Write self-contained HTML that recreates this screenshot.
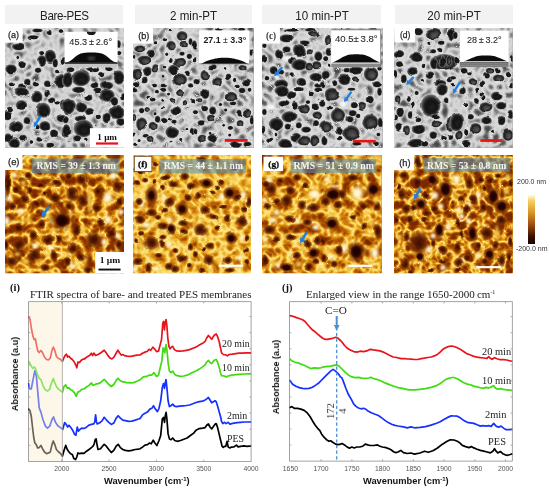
<!DOCTYPE html>
<html><head><meta charset="utf-8">
<style>
html,body{margin:0;padding:0;background:#fff;}
body{width:550px;height:490px;position:relative;overflow:hidden;font-family:"Liberation Sans",sans-serif;}
.a{position:absolute;will-change:transform;}
.hd{position:absolute;will-change:transform;top:5px;height:19px;background:#f2f2f2;color:#222;font-size:12.6px;line-height:19px;text-align:center;padding-top:1.5px;box-sizing:border-box;}
.sem{position:absolute;top:28px;height:119.5px;background:#a8a8a8;overflow:hidden;}
.afm{position:absolute;top:155px;height:118px;background:#c88a2a;overflow:hidden;}
.lbl{position:absolute;background:#fff;color:#333;font-size:9.5px;}
.ins{position:absolute;background:#fff;overflow:hidden;}
.ins .t{position:absolute;left:0;right:0;text-align:center;color:#222;font-size:9.5px;}
.rms{position:absolute;background:rgba(110,160,185,0.62);color:#fff;font-family:"Liberation Serif",serif;font-weight:bold;font-size:10px;line-height:14px;text-align:center;white-space:nowrap;}
.hd span{display:inline-block;transform:scaleX(0.92);}
.serif{font-family:"Liberation Serif",serif;}
</style></head><body>

<!-- headers -->
<div class="hd" style="left:4.5px;width:117.7px;letter-spacing:-0.4px;padding-left:2px;"><span>Bare-PES</span></div>
<div class="hd" style="left:134.5px;width:116.5px;"><span>2 min-PT</span></div>
<div class="hd" style="left:262.4px;width:119.4px;"><span>10 min-PT</span></div>
<div class="hd" style="left:394.9px;width:117.7px;"><span>20 min-PT</span></div>

<!-- SEM panels -->
<div class="sem" id="sa" style="left:5px;width:119px;"></div>
<div class="sem" id="sb" style="left:133px;width:120.5px;"></div>
<div class="sem" id="sc" style="left:262px;width:120.5px;"></div>
<div class="sem" id="sd" style="left:394px;width:118.6px;"></div>

<!-- AFM panels -->
<div class="afm" id="fe" style="left:5px;width:119px;"></div>
<div class="afm" id="ff" style="left:133px;width:118px;"></div>
<div class="afm" id="fg" style="left:262px;width:119.5px;"></div>
<div class="afm" id="fh" style="left:394px;width:118.6px;"></div>

<!-- color bar -->
<div class="a" style="left:528.3px;top:194.8px;width:7px;height:48.6px;background:linear-gradient(#fffbe8 0%,#f5d060 12%,#d99a2a 35%,#9a4a10 62%,#3a0f00 85%,#150500 100%);"></div>
<div class="a" style="left:517px;top:178px;font-size:7px;color:#333;white-space:nowrap;">200.0 nm</div>
<div class="a" style="left:516px;top:245.3px;font-size:7px;color:#333;white-space:nowrap;">-200.0 nm</div>

<svg class="a" style="left:0;top:0;" width="550" height="490" viewBox="0 0 550 490">
<defs>
<radialGradient id="pg" fx="0.58" fy="0.62"><stop offset="0" stop-color="#202020"/><stop offset="0.5" stop-color="#141414"/><stop offset="0.68" stop-color="#1e1e1e"/><stop offset="0.85" stop-color="#4a4a4a"/><stop offset="1" stop-color="#8c8c8c"/></radialGradient>
<radialGradient id="pgm" fx="0.62" fy="0.66"><stop offset="0" stop-color="#5a5a5a"/><stop offset="0.45" stop-color="#3e3e3e"/><stop offset="0.7" stop-color="#1e1e1e"/><stop offset="0.86" stop-color="#404040"/><stop offset="1" stop-color="#8c8c8c"/></radialGradient>
<filter id="bl4" x="-10%" y="-10%" width="120%" height="120%"><feGaussianBlur stdDeviation="0.35"/></filter>
<filter id="bl8" x="-10%" y="-10%" width="120%" height="120%"><feGaussianBlur stdDeviation="0.8"/></filter>
<filter id="semN1" x="0" y="0" width="100%" height="100%" color-interpolation-filters="sRGB"><feTurbulence type="turbulence" baseFrequency="0.12" numOctaves="1" seed="1"/><feColorMatrix type="matrix" values="1.8 0 0 0 0  1.8 0 0 0 0  1.8 0 0 0 0  0 0 0 0 1"/><feComponentTransfer><feFuncR type="table" tableValues="0.85 0.81 0.73 0.61 0.46 0.35 0.29"/><feFuncG type="table" tableValues="0.85 0.81 0.73 0.61 0.46 0.35 0.29"/><feFuncB type="table" tableValues="0.85 0.81 0.73 0.61 0.46 0.35 0.29"/></feComponentTransfer><feGaussianBlur stdDeviation="0.45"/></filter>
<filter id="semN2" x="0" y="0" width="100%" height="100%" color-interpolation-filters="sRGB"><feTurbulence type="turbulence" baseFrequency="0.12" numOctaves="1" seed="2"/><feColorMatrix type="matrix" values="1.8 0 0 0 0  1.8 0 0 0 0  1.8 0 0 0 0  0 0 0 0 1"/><feComponentTransfer><feFuncR type="table" tableValues="0.85 0.81 0.73 0.61 0.46 0.35 0.29"/><feFuncG type="table" tableValues="0.85 0.81 0.73 0.61 0.46 0.35 0.29"/><feFuncB type="table" tableValues="0.85 0.81 0.73 0.61 0.46 0.35 0.29"/></feComponentTransfer><feGaussianBlur stdDeviation="0.45"/></filter>
<filter id="semN3" x="0" y="0" width="100%" height="100%" color-interpolation-filters="sRGB"><feTurbulence type="turbulence" baseFrequency="0.12" numOctaves="1" seed="3"/><feColorMatrix type="matrix" values="1.8 0 0 0 0  1.8 0 0 0 0  1.8 0 0 0 0  0 0 0 0 1"/><feComponentTransfer><feFuncR type="table" tableValues="0.85 0.81 0.73 0.61 0.46 0.35 0.29"/><feFuncG type="table" tableValues="0.85 0.81 0.73 0.61 0.46 0.35 0.29"/><feFuncB type="table" tableValues="0.85 0.81 0.73 0.61 0.46 0.35 0.29"/></feComponentTransfer><feGaussianBlur stdDeviation="0.45"/></filter>
<filter id="semN4" x="0" y="0" width="100%" height="100%" color-interpolation-filters="sRGB"><feTurbulence type="turbulence" baseFrequency="0.12" numOctaves="1" seed="4"/><feColorMatrix type="matrix" values="1.8 0 0 0 0  1.8 0 0 0 0  1.8 0 0 0 0  0 0 0 0 1"/><feComponentTransfer><feFuncR type="table" tableValues="0.85 0.81 0.73 0.61 0.46 0.35 0.29"/><feFuncG type="table" tableValues="0.85 0.81 0.73 0.61 0.46 0.35 0.29"/><feFuncB type="table" tableValues="0.85 0.81 0.73 0.61 0.46 0.35 0.29"/></feComponentTransfer><feGaussianBlur stdDeviation="0.45"/></filter>
<filter id="semN5" x="0" y="0" width="100%" height="100%" color-interpolation-filters="sRGB"><feTurbulence type="turbulence" baseFrequency="0.12" numOctaves="1" seed="5"/><feColorMatrix type="matrix" values="1.8 0 0 0 0  1.8 0 0 0 0  1.8 0 0 0 0  0 0 0 0 1"/><feComponentTransfer><feFuncR type="table" tableValues="0.85 0.81 0.73 0.61 0.46 0.35 0.29"/><feFuncG type="table" tableValues="0.85 0.81 0.73 0.61 0.46 0.35 0.29"/><feFuncB type="table" tableValues="0.85 0.81 0.73 0.61 0.46 0.35 0.29"/></feComponentTransfer><feGaussianBlur stdDeviation="0.45"/></filter>
<filter id="semN6" x="0" y="0" width="100%" height="100%" color-interpolation-filters="sRGB"><feTurbulence type="turbulence" baseFrequency="0.12" numOctaves="1" seed="6"/><feColorMatrix type="matrix" values="1.8 0 0 0 0  1.8 0 0 0 0  1.8 0 0 0 0  0 0 0 0 1"/><feComponentTransfer><feFuncR type="table" tableValues="0.85 0.81 0.73 0.61 0.46 0.35 0.29"/><feFuncG type="table" tableValues="0.85 0.81 0.73 0.61 0.46 0.35 0.29"/><feFuncB type="table" tableValues="0.85 0.81 0.73 0.61 0.46 0.35 0.29"/></feComponentTransfer><feGaussianBlur stdDeviation="0.45"/></filter>
<filter id="semN7" x="0" y="0" width="100%" height="100%" color-interpolation-filters="sRGB"><feTurbulence type="turbulence" baseFrequency="0.12" numOctaves="1" seed="7"/><feColorMatrix type="matrix" values="1.8 0 0 0 0  1.8 0 0 0 0  1.8 0 0 0 0  0 0 0 0 1"/><feComponentTransfer><feFuncR type="table" tableValues="0.85 0.81 0.73 0.61 0.46 0.35 0.29"/><feFuncG type="table" tableValues="0.85 0.81 0.73 0.61 0.46 0.35 0.29"/><feFuncB type="table" tableValues="0.85 0.81 0.73 0.61 0.46 0.35 0.29"/></feComponentTransfer><feGaussianBlur stdDeviation="0.45"/></filter>
<filter id="semN8" x="0" y="0" width="100%" height="100%" color-interpolation-filters="sRGB"><feTurbulence type="turbulence" baseFrequency="0.12" numOctaves="1" seed="8"/><feColorMatrix type="matrix" values="1.8 0 0 0 0  1.8 0 0 0 0  1.8 0 0 0 0  0 0 0 0 1"/><feComponentTransfer><feFuncR type="table" tableValues="0.85 0.81 0.73 0.61 0.46 0.35 0.29"/><feFuncG type="table" tableValues="0.85 0.81 0.73 0.61 0.46 0.35 0.29"/><feFuncB type="table" tableValues="0.85 0.81 0.73 0.61 0.46 0.35 0.29"/></feComponentTransfer><feGaussianBlur stdDeviation="0.45"/></filter>
<radialGradient id="ag"><stop offset="0" stop-color="#3a0c00"/><stop offset="0.45" stop-color="#561800" stop-opacity="0.95"/><stop offset="0.75" stop-color="#7a3004" stop-opacity="0.7"/><stop offset="1" stop-color="#9a4a08" stop-opacity="0"/></radialGradient>
<radialGradient id="ah"><stop offset="0" stop-color="#5a1800" stop-opacity="0.8"/><stop offset="0.6" stop-color="#7a3206" stop-opacity="0.45"/><stop offset="1" stop-color="#9a4a08" stop-opacity="0"/></radialGradient>
<radialGradient id="ac"><stop offset="0" stop-color="#160200"/><stop offset="0.55" stop-color="#260400"/><stop offset="0.8" stop-color="#3a0a00" stop-opacity="0.7"/><stop offset="1" stop-color="#5a1800" stop-opacity="0"/></radialGradient>
<radialGradient id="ab1"><stop offset="0" stop-color="#ffffff"/><stop offset="0.45" stop-color="#fff2c0" stop-opacity="0.95"/><stop offset="1" stop-color="#f0c850" stop-opacity="0"/></radialGradient>
<radialGradient id="ab0"><stop offset="0" stop-color="#f8d860"/><stop offset="0.6" stop-color="#f0c040" stop-opacity="0.8"/><stop offset="1" stop-color="#e8b030" stop-opacity="0"/></radialGradient>
<filter id="bl6" x="-10%" y="-10%" width="120%" height="120%"><feGaussianBlur stdDeviation="0.6"/></filter>
<filter id="afmN1" x="0" y="0" width="100%" height="100%" color-interpolation-filters="sRGB"><feTurbulence type="turbulence" baseFrequency="0.085" numOctaves="2" seed="5"/><feGaussianBlur stdDeviation="0.5"/><feColorMatrix type="matrix" values="1.95 0 0 0 0  1.95 0 0 0 0  1.95 0 0 0 0  0 0 0 0 1"/><feComponentTransfer><feFuncR type="table" tableValues="1 0.97 0.9 0.8 0.66 0.55 0.48"/><feFuncG type="table" tableValues="0.93 0.82 0.64 0.47 0.32 0.22 0.16"/><feFuncB type="table" tableValues="0.62 0.34 0.12 0.05 0.02 0 0"/></feComponentTransfer></filter>
<filter id="afmN2" x="0" y="0" width="100%" height="100%" color-interpolation-filters="sRGB"><feTurbulence type="turbulence" baseFrequency="0.095" numOctaves="2" seed="6"/><feGaussianBlur stdDeviation="0.5"/><feColorMatrix type="matrix" values="1.1 0 0 0 0  1.1 0 0 0 0  1.1 0 0 0 0  0 0 0 0 1"/><feComponentTransfer><feFuncR type="table" tableValues="1 0.97 0.9 0.8 0.66 0.55 0.48"/><feFuncG type="table" tableValues="0.93 0.82 0.64 0.47 0.32 0.22 0.16"/><feFuncB type="table" tableValues="0.62 0.34 0.12 0.05 0.02 0 0"/></feComponentTransfer></filter>
<filter id="afmN3" x="0" y="0" width="100%" height="100%" color-interpolation-filters="sRGB"><feTurbulence type="turbulence" baseFrequency="0.085" numOctaves="2" seed="7"/><feGaussianBlur stdDeviation="0.5"/><feColorMatrix type="matrix" values="1.55 0 0 0 0  1.55 0 0 0 0  1.55 0 0 0 0  0 0 0 0 1"/><feComponentTransfer><feFuncR type="table" tableValues="1 0.97 0.9 0.8 0.66 0.55 0.48"/><feFuncG type="table" tableValues="0.93 0.82 0.64 0.47 0.32 0.22 0.16"/><feFuncB type="table" tableValues="0.62 0.34 0.12 0.05 0.02 0 0"/></feComponentTransfer></filter>
<filter id="afmN4" x="0" y="0" width="100%" height="100%" color-interpolation-filters="sRGB"><feTurbulence type="turbulence" baseFrequency="0.095" numOctaves="2" seed="8"/><feGaussianBlur stdDeviation="0.5"/><feColorMatrix type="matrix" values="2.0 0 0 0 0  2.0 0 0 0 0  2.0 0 0 0 0  0 0 0 0 1"/><feComponentTransfer><feFuncR type="table" tableValues="1 0.97 0.9 0.8 0.66 0.55 0.48"/><feFuncG type="table" tableValues="0.93 0.82 0.64 0.47 0.32 0.22 0.16"/><feFuncB type="table" tableValues="0.62 0.34 0.12 0.05 0.02 0 0"/></feComponentTransfer></filter>
<filter id="warp1" x="-5%" y="-5%" width="110%" height="110%" color-interpolation-filters="sRGB"><feTurbulence type="fractalNoise" baseFrequency="0.09" numOctaves="1" seed="31" result="n"/><feDisplacementMap in="SourceGraphic" in2="n" scale="4" xChannelSelector="R" yChannelSelector="G"/><feGaussianBlur stdDeviation="0.55"/></filter>
<filter id="warp2" x="-5%" y="-5%" width="110%" height="110%" color-interpolation-filters="sRGB"><feTurbulence type="fractalNoise" baseFrequency="0.09" numOctaves="1" seed="32" result="n"/><feDisplacementMap in="SourceGraphic" in2="n" scale="4" xChannelSelector="R" yChannelSelector="G"/><feGaussianBlur stdDeviation="0.55"/></filter>
<filter id="warp3" x="-5%" y="-5%" width="110%" height="110%" color-interpolation-filters="sRGB"><feTurbulence type="fractalNoise" baseFrequency="0.09" numOctaves="1" seed="33" result="n"/><feDisplacementMap in="SourceGraphic" in2="n" scale="4" xChannelSelector="R" yChannelSelector="G"/><feGaussianBlur stdDeviation="0.55"/></filter>
<filter id="warp4" x="-5%" y="-5%" width="110%" height="110%" color-interpolation-filters="sRGB"><feTurbulence type="fractalNoise" baseFrequency="0.09" numOctaves="1" seed="34" result="n"/><feDisplacementMap in="SourceGraphic" in2="n" scale="4" xChannelSelector="R" yChannelSelector="G"/><feGaussianBlur stdDeviation="0.55"/></filter>
<filter id="warp5" x="-5%" y="-5%" width="110%" height="110%" color-interpolation-filters="sRGB"><feTurbulence type="fractalNoise" baseFrequency="0.09" numOctaves="1" seed="35" result="n"/><feDisplacementMap in="SourceGraphic" in2="n" scale="4" xChannelSelector="R" yChannelSelector="G"/><feGaussianBlur stdDeviation="0.55"/></filter>
<filter id="warp6" x="-5%" y="-5%" width="110%" height="110%" color-interpolation-filters="sRGB"><feTurbulence type="fractalNoise" baseFrequency="0.09" numOctaves="1" seed="36" result="n"/><feDisplacementMap in="SourceGraphic" in2="n" scale="4" xChannelSelector="R" yChannelSelector="G"/><feGaussianBlur stdDeviation="0.55"/></filter>
<filter id="warp7" x="-5%" y="-5%" width="110%" height="110%" color-interpolation-filters="sRGB"><feTurbulence type="fractalNoise" baseFrequency="0.09" numOctaves="1" seed="37" result="n"/><feDisplacementMap in="SourceGraphic" in2="n" scale="4" xChannelSelector="R" yChannelSelector="G"/><feGaussianBlur stdDeviation="0.55"/></filter>
<filter id="warp8" x="-5%" y="-5%" width="110%" height="110%" color-interpolation-filters="sRGB"><feTurbulence type="fractalNoise" baseFrequency="0.09" numOctaves="1" seed="38" result="n"/><feDisplacementMap in="SourceGraphic" in2="n" scale="4" xChannelSelector="R" yChannelSelector="G"/><feGaussianBlur stdDeviation="0.55"/></filter>
<filter id="afmF2" x="0" y="0" width="100%" height="100%" color-interpolation-filters="sRGB"><feTurbulence type="fractalNoise" baseFrequency="0.075" numOctaves="3" seed="17"/><feColorMatrix type="matrix" values="2.6 0 0 0 -0.8  2.6 0 0 0 -0.8  2.6 0 0 0 -0.8  0 0 0 0 1"/><feComponentTransfer><feFuncR type="table" tableValues="0.5 0.74 0.88 0.95 0.99 1"/><feFuncG type="table" tableValues="0.17 0.38 0.6 0.75 0.86 0.94"/><feFuncB type="table" tableValues="0 0.03 0.1 0.2 0.35 0.62"/></feComponentTransfer></filter>
</defs>
<clipPath id="csa"><rect x="5.0" y="28.0" width="119.0" height="119.5"/></clipPath>
<g clip-path="url(#csa)">
<rect x="5.0" y="28.0" width="119.0" height="119.5" fill="#a9a9a9"/>
<rect x="5.0" y="28.0" width="119.0" height="119.5" filter="url(#semN1)"/>
<g filter="url(#bl8)" fill="#e2e2e2">
<ellipse cx="33.0" cy="37.8" rx="6.9" ry="3.9"/>
<ellipse cx="37.4" cy="30.4" rx="6.5" ry="3.1"/>
<ellipse cx="18.5" cy="46.4" rx="7.8" ry="5.2"/>
<ellipse cx="50.3" cy="56.8" rx="6.9" ry="8.5"/>
<ellipse cx="41.7" cy="61.0" rx="5.8" ry="7.2"/>
<ellipse cx="41.7" cy="52.5" rx="3.8" ry="3.8"/>
<ellipse cx="22.1" cy="64.1" rx="6.1" ry="5.3"/>
<ellipse cx="10.5" cy="69.0" rx="6.5" ry="5.8"/>
<ellipse cx="38.0" cy="70.2" rx="4.5" ry="3.8"/>
<ellipse cx="17.2" cy="57.4" rx="3.1" ry="3.1"/>
<ellipse cx="55.2" cy="63.5" rx="3.8" ry="5.2"/>
<ellipse cx="61.3" cy="80.6" rx="7.8" ry="7.8"/>
<ellipse cx="47.2" cy="83.7" rx="4.5" ry="4.5"/>
<ellipse cx="28.3" cy="81.9" rx="4.5" ry="4.5"/>
<ellipse cx="36.8" cy="85.0" rx="4.5" ry="3.8"/>
<ellipse cx="56.4" cy="71.5" rx="3.8" ry="3.1"/>
<ellipse cx="49.0" cy="32.3" rx="3.8" ry="3.8"/>
<ellipse cx="62.5" cy="61.0" rx="3.1" ry="5.2"/>
<ellipse cx="12.3" cy="84.3" rx="3.8" ry="3.1"/>
<ellipse cx="22.0" cy="86.0" rx="5.2" ry="3.8"/>
<ellipse cx="60.0" cy="31.0" rx="3.8" ry="3.1"/>
<ellipse cx="70.5" cy="69.6" rx="5.2" ry="3.8"/>
<ellipse cx="91.3" cy="69.6" rx="6.5" ry="3.8"/>
<ellipse cx="96.2" cy="69.6" rx="5.2" ry="3.8"/>
<ellipse cx="109.0" cy="69.6" rx="5.2" ry="3.8"/>
<ellipse cx="80.9" cy="78.2" rx="10.6" ry="9.2"/>
<ellipse cx="67.4" cy="79.4" rx="6.5" ry="9.2"/>
<ellipse cx="101.7" cy="74.5" rx="3.8" ry="3.8"/>
<ellipse cx="118.9" cy="77.0" rx="6.5" ry="7.8"/>
<ellipse cx="106.6" cy="85.5" rx="7.8" ry="5.2"/>
<ellipse cx="117.6" cy="43.9" rx="4.5" ry="5.2"/>
<ellipse cx="118.9" cy="52.5" rx="3.8" ry="3.8"/>
<ellipse cx="94.4" cy="85.5" rx="5.2" ry="3.8"/>
<ellipse cx="20.9" cy="91.7" rx="8.5" ry="6.1"/>
<ellipse cx="36.8" cy="97.2" rx="6.9" ry="7.7"/>
<ellipse cx="46.6" cy="92.9" rx="3.5" ry="4.3"/>
<ellipse cx="52.1" cy="100.2" rx="4.3" ry="4.1"/>
<ellipse cx="57.6" cy="103.3" rx="3.5" ry="3.5"/>
<ellipse cx="63.1" cy="105.1" rx="4.3" ry="6.9"/>
<ellipse cx="21.5" cy="105.1" rx="6.9" ry="6.1"/>
<ellipse cx="7.4" cy="115.5" rx="6.1" ry="6.1"/>
<ellipse cx="9.9" cy="110.0" rx="4.3" ry="3.5"/>
<ellipse cx="43.6" cy="110.6" rx="9.3" ry="9.3"/>
<ellipse cx="61.3" cy="118.0" rx="6.1" ry="5.3"/>
<ellipse cx="27.0" cy="121.0" rx="4.7" ry="5.3"/>
<ellipse cx="16.0" cy="126.6" rx="8.5" ry="6.9"/>
<ellipse cx="44.8" cy="126.0" rx="6.9" ry="6.1"/>
<ellipse cx="37.4" cy="127.2" rx="3.5" ry="3.5"/>
<ellipse cx="54.0" cy="133.3" rx="5.3" ry="6.1"/>
<ellipse cx="63.8" cy="132.0" rx="3.5" ry="6.1"/>
<ellipse cx="23.4" cy="138.2" rx="4.7" ry="4.7"/>
<ellipse cx="8.0" cy="138.2" rx="5.3" ry="6.1"/>
<ellipse cx="14.2" cy="143.1" rx="6.9" ry="6.1"/>
<ellipse cx="39.3" cy="139.4" rx="4.3" ry="3.5"/>
<ellipse cx="50.3" cy="144.9" rx="5.3" ry="3.5"/>
<ellipse cx="31.3" cy="141.9" rx="3.1" ry="3.1"/>
<ellipse cx="78.5" cy="89.8" rx="7.7" ry="4.3"/>
<ellipse cx="106.6" cy="95.3" rx="9.3" ry="7.7"/>
<ellipse cx="97.4" cy="89.8" rx="5.3" ry="3.5"/>
<ellipse cx="88.3" cy="97.8" rx="5.3" ry="4.3"/>
<ellipse cx="114.0" cy="100.9" rx="5.3" ry="5.3"/>
<ellipse cx="122.5" cy="97.2" rx="3.5" ry="4.3"/>
<ellipse cx="68.7" cy="106.4" rx="8.5" ry="9.3"/>
<ellipse cx="81.5" cy="107.6" rx="6.9" ry="6.1"/>
<ellipse cx="89.5" cy="111.9" rx="6.1" ry="5.3"/>
<ellipse cx="116.4" cy="111.9" rx="9.3" ry="8.5"/>
<ellipse cx="106.6" cy="117.4" rx="5.3" ry="6.1"/>
<ellipse cx="98.7" cy="116.8" rx="3.5" ry="3.5"/>
<ellipse cx="120.1" cy="121.7" rx="6.1" ry="5.3"/>
<ellipse cx="80.3" cy="118.6" rx="6.9" ry="4.3"/>
<ellipse cx="65.6" cy="119.2" rx="4.3" ry="5.3"/>
<ellipse cx="83.4" cy="128.4" rx="11.0" ry="10.1"/>
<ellipse cx="66.2" cy="130.8" rx="5.3" ry="6.9"/>
<ellipse cx="77.2" cy="138.2" rx="5.3" ry="4.3"/>
<ellipse cx="85.8" cy="139.4" rx="3.1" ry="3.1"/>
</g>
<g filter="url(#warp1)">
<ellipse cx="33.0" cy="37.8" rx="5.8" ry="2.8" fill="url(#pg)"/>
<ellipse cx="37.4" cy="30.4" rx="5.4" ry="2.0" fill="url(#pg)"/>
<ellipse cx="18.5" cy="46.4" rx="6.8" ry="4.1" fill="url(#pg)"/>
<ellipse cx="50.3" cy="56.8" rx="5.8" ry="7.4" fill="url(#pg)"/>
<ellipse cx="41.7" cy="61.0" rx="4.7" ry="6.1" fill="url(#pg)"/>
<ellipse cx="41.7" cy="52.5" rx="2.7" ry="2.7" fill="url(#pg)"/>
<ellipse cx="22.1" cy="64.1" rx="5.0" ry="4.2" fill="url(#pg)"/>
<ellipse cx="10.5" cy="69.0" rx="5.4" ry="4.7" fill="url(#pg)"/>
<ellipse cx="38.0" cy="70.2" rx="3.4" ry="2.7" fill="url(#pg)"/>
<ellipse cx="17.2" cy="57.4" rx="2.0" ry="2.0" fill="url(#pg)"/>
<ellipse cx="55.2" cy="63.5" rx="2.7" ry="4.1" fill="url(#pg)"/>
<ellipse cx="61.3" cy="80.6" rx="6.8" ry="6.8" fill="url(#pg)"/>
<ellipse cx="47.2" cy="83.7" rx="3.4" ry="3.4" fill="url(#pg)"/>
<ellipse cx="28.3" cy="81.9" rx="3.4" ry="3.4" fill="url(#pg)"/>
<ellipse cx="36.8" cy="85.0" rx="3.4" ry="2.7" fill="url(#pg)"/>
<ellipse cx="56.4" cy="71.5" rx="2.7" ry="2.0" fill="url(#pg)"/>
<ellipse cx="49.0" cy="32.3" rx="2.7" ry="2.7" fill="url(#pg)"/>
<ellipse cx="62.5" cy="61.0" rx="2.0" ry="4.1" fill="url(#pg)"/>
<ellipse cx="12.3" cy="84.3" rx="2.7" ry="2.0" fill="url(#pg)"/>
<ellipse cx="22.0" cy="86.0" rx="4.1" ry="2.7" fill="url(#pg)"/>
<ellipse cx="60.0" cy="31.0" rx="2.7" ry="2.0" fill="url(#pg)"/>
<ellipse cx="70.5" cy="69.6" rx="4.1" ry="2.7" fill="url(#pg)"/>
<ellipse cx="91.3" cy="69.6" rx="5.4" ry="2.7" fill="url(#pg)"/>
<ellipse cx="96.2" cy="69.6" rx="4.1" ry="2.7" fill="url(#pg)"/>
<ellipse cx="109.0" cy="69.6" rx="4.1" ry="2.7" fill="url(#pg)"/>
<ellipse cx="80.9" cy="78.2" rx="9.5" ry="8.1" fill="url(#pg)"/>
<ellipse cx="67.4" cy="79.4" rx="5.4" ry="8.1" fill="url(#pg)"/>
<ellipse cx="101.7" cy="74.5" rx="2.7" ry="2.7" fill="url(#pg)"/>
<ellipse cx="118.9" cy="77.0" rx="5.4" ry="6.8" fill="url(#pg)"/>
<ellipse cx="106.6" cy="85.5" rx="6.8" ry="4.1" fill="url(#pg)"/>
<ellipse cx="117.6" cy="43.9" rx="3.4" ry="4.1" fill="url(#pg)"/>
<ellipse cx="118.9" cy="52.5" rx="2.7" ry="2.7" fill="url(#pg)"/>
<ellipse cx="94.4" cy="85.5" rx="4.1" ry="2.7" fill="url(#pg)"/>
<ellipse cx="20.9" cy="91.7" rx="7.4" ry="5.0" fill="url(#pg)"/>
<ellipse cx="36.8" cy="97.2" rx="5.8" ry="6.6" fill="url(#pg)"/>
<ellipse cx="46.6" cy="92.9" rx="2.4" ry="3.2" fill="url(#pg)"/>
<ellipse cx="52.1" cy="100.2" rx="3.2" ry="3.0" fill="url(#pg)"/>
<ellipse cx="57.6" cy="103.3" rx="2.4" ry="2.4" fill="url(#pg)"/>
<ellipse cx="63.1" cy="105.1" rx="3.2" ry="5.8" fill="url(#pg)"/>
<ellipse cx="21.5" cy="105.1" rx="5.8" ry="5.0" fill="url(#pg)"/>
<ellipse cx="7.4" cy="115.5" rx="5.0" ry="5.0" fill="url(#pg)"/>
<ellipse cx="9.9" cy="110.0" rx="3.2" ry="2.4" fill="url(#pg)"/>
<ellipse cx="43.6" cy="110.6" rx="8.2" ry="8.2" fill="url(#pg)"/>
<ellipse cx="61.3" cy="118.0" rx="5.0" ry="4.2" fill="url(#pg)"/>
<ellipse cx="27.0" cy="121.0" rx="3.6" ry="4.2" fill="url(#pg)"/>
<ellipse cx="16.0" cy="126.6" rx="7.4" ry="5.8" fill="url(#pg)"/>
<ellipse cx="44.8" cy="126.0" rx="5.8" ry="5.0" fill="url(#pg)"/>
<ellipse cx="37.4" cy="127.2" rx="2.4" ry="2.4" fill="url(#pg)"/>
<ellipse cx="54.0" cy="133.3" rx="4.2" ry="5.0" fill="url(#pg)"/>
<ellipse cx="63.8" cy="132.0" rx="2.4" ry="5.0" fill="url(#pg)"/>
<ellipse cx="23.4" cy="138.2" rx="3.6" ry="3.6" fill="url(#pg)"/>
<ellipse cx="8.0" cy="138.2" rx="4.2" ry="5.0" fill="url(#pg)"/>
<ellipse cx="14.2" cy="143.1" rx="5.8" ry="5.0" fill="url(#pg)"/>
<ellipse cx="39.3" cy="139.4" rx="3.2" ry="2.4" fill="url(#pg)"/>
<ellipse cx="50.3" cy="144.9" rx="4.2" ry="2.4" fill="url(#pg)"/>
<ellipse cx="31.3" cy="141.9" rx="2.0" ry="2.0" fill="url(#pg)"/>
<ellipse cx="78.5" cy="89.8" rx="6.6" ry="3.2" fill="url(#pg)"/>
<ellipse cx="106.6" cy="95.3" rx="8.2" ry="6.6" fill="url(#pg)"/>
<ellipse cx="97.4" cy="89.8" rx="4.2" ry="2.4" fill="url(#pg)"/>
<ellipse cx="88.3" cy="97.8" rx="4.2" ry="3.2" fill="url(#pg)"/>
<ellipse cx="114.0" cy="100.9" rx="4.2" ry="4.2" fill="url(#pg)"/>
<ellipse cx="122.5" cy="97.2" rx="2.4" ry="3.2" fill="url(#pg)"/>
<ellipse cx="68.7" cy="106.4" rx="7.4" ry="8.2" fill="url(#pg)"/>
<ellipse cx="81.5" cy="107.6" rx="5.8" ry="5.0" fill="url(#pg)"/>
<ellipse cx="89.5" cy="111.9" rx="5.0" ry="4.2" fill="url(#pg)"/>
<ellipse cx="116.4" cy="111.9" rx="8.2" ry="7.4" fill="url(#pg)"/>
<ellipse cx="106.6" cy="117.4" rx="4.2" ry="5.0" fill="url(#pg)"/>
<ellipse cx="98.7" cy="116.8" rx="2.4" ry="2.4" fill="url(#pg)"/>
<ellipse cx="120.1" cy="121.7" rx="5.0" ry="4.2" fill="url(#pg)"/>
<ellipse cx="80.3" cy="118.6" rx="5.8" ry="3.2" fill="url(#pg)"/>
<ellipse cx="65.6" cy="119.2" rx="3.2" ry="4.2" fill="url(#pg)"/>
<ellipse cx="83.4" cy="128.4" rx="9.9" ry="9.0" fill="url(#pg)"/>
<ellipse cx="66.2" cy="130.8" rx="4.2" ry="5.8" fill="url(#pg)"/>
<ellipse cx="77.2" cy="138.2" rx="4.2" ry="3.2" fill="url(#pg)"/>
<ellipse cx="85.8" cy="139.4" rx="2.0" ry="2.0" fill="url(#pg)"/>
</g>
</g>
<clipPath id="csb"><rect x="133.0" y="28.0" width="120.5" height="119.5"/></clipPath>
<g clip-path="url(#csb)">
<rect x="133.0" y="28.0" width="120.5" height="119.5" fill="#a9a9a9"/>
<rect x="133.0" y="28.0" width="120.5" height="119.5" filter="url(#semN2)"/>
<g filter="url(#bl8)" fill="#e2e2e2">
<ellipse cx="182.0" cy="36.0" rx="6.7" ry="6.0"/>
<ellipse cx="169.7" cy="29.8" rx="2.5" ry="2.5"/>
<ellipse cx="165.4" cy="39.6" rx="2.8" ry="2.8"/>
<ellipse cx="155.6" cy="42.7" rx="3.2" ry="2.8"/>
<ellipse cx="171.0" cy="45.7" rx="6.0" ry="6.0"/>
<ellipse cx="183.8" cy="44.5" rx="5.4" ry="3.9"/>
<ellipse cx="190.5" cy="41.5" rx="3.2" ry="4.7"/>
<ellipse cx="140.3" cy="48.8" rx="7.4" ry="4.7"/>
<ellipse cx="150.7" cy="53.7" rx="5.4" ry="5.4"/>
<ellipse cx="134.2" cy="56.8" rx="2.5" ry="3.2"/>
<ellipse cx="166.7" cy="54.3" rx="2.8" ry="2.8"/>
<ellipse cx="182.0" cy="53.7" rx="3.9" ry="3.2"/>
<ellipse cx="189.3" cy="56.2" rx="3.9" ry="3.9"/>
<ellipse cx="144.0" cy="60.4" rx="8.1" ry="6.0"/>
<ellipse cx="169.7" cy="61.0" rx="3.2" ry="3.2"/>
<ellipse cx="178.9" cy="62.9" rx="7.4" ry="6.0"/>
<ellipse cx="155.6" cy="68.4" rx="4.7" ry="5.4"/>
<ellipse cx="173.4" cy="69.6" rx="6.7" ry="6.0"/>
<ellipse cx="164.8" cy="67.2" rx="2.5" ry="2.5"/>
<ellipse cx="147.7" cy="71.5" rx="6.0" ry="6.0"/>
<ellipse cx="136.7" cy="74.5" rx="5.4" ry="6.7"/>
<ellipse cx="145.2" cy="80.0" rx="4.7" ry="4.7"/>
<ellipse cx="179.5" cy="79.4" rx="8.8" ry="7.4"/>
<ellipse cx="188.1" cy="73.3" rx="3.9" ry="3.9"/>
<ellipse cx="163.0" cy="76.3" rx="2.6" ry="2.6"/>
<ellipse cx="136.0" cy="83.7" rx="4.7" ry="3.9"/>
<ellipse cx="154.4" cy="85.5" rx="3.9" ry="3.2"/>
<ellipse cx="164.2" cy="85.5" rx="3.9" ry="3.2"/>
<ellipse cx="190.5" cy="84.9" rx="3.9" ry="3.9"/>
<ellipse cx="194.2" cy="45.1" rx="3.9" ry="6.0"/>
<ellipse cx="195.4" cy="59.8" rx="3.2" ry="3.9"/>
<ellipse cx="219.3" cy="29.5" rx="4.5" ry="2.8"/>
<ellipse cx="242.0" cy="29.5" rx="4.5" ry="2.8"/>
<ellipse cx="251.1" cy="52.5" rx="2.8" ry="4.5"/>
<ellipse cx="212.6" cy="67.8" rx="5.4" ry="3.9"/>
<ellipse cx="205.2" cy="75.7" rx="6.0" ry="6.0"/>
<ellipse cx="228.5" cy="76.3" rx="3.9" ry="3.9"/>
<ellipse cx="242.0" cy="67.8" rx="6.0" ry="3.9"/>
<ellipse cx="217.5" cy="81.9" rx="6.7" ry="6.0"/>
<ellipse cx="246.9" cy="83.1" rx="5.4" ry="4.7"/>
<ellipse cx="237.1" cy="85.5" rx="3.9" ry="3.2"/>
<ellipse cx="196.1" cy="80.6" rx="3.9" ry="3.9"/>
<ellipse cx="226.0" cy="68.4" rx="2.6" ry="2.6"/>
<ellipse cx="234.6" cy="79.4" rx="2.8" ry="2.8"/>
<ellipse cx="134.8" cy="89.8" rx="3.9" ry="3.9"/>
<ellipse cx="163.6" cy="89.8" rx="3.9" ry="3.2"/>
<ellipse cx="156.9" cy="91.7" rx="3.2" ry="3.2"/>
<ellipse cx="179.5" cy="93.5" rx="4.7" ry="4.7"/>
<ellipse cx="168.5" cy="94.1" rx="2.7" ry="2.7"/>
<ellipse cx="148.3" cy="97.2" rx="3.2" ry="2.8"/>
<ellipse cx="153.2" cy="99.6" rx="3.6" ry="3.2"/>
<ellipse cx="161.8" cy="100.2" rx="2.7" ry="2.7"/>
<ellipse cx="172.8" cy="100.2" rx="3.6" ry="3.6"/>
<ellipse cx="184.4" cy="102.7" rx="3.9" ry="3.9"/>
<ellipse cx="191.8" cy="99.6" rx="2.7" ry="2.7"/>
<ellipse cx="175.8" cy="110.6" rx="6.7" ry="6.0"/>
<ellipse cx="141.6" cy="110.6" rx="3.9" ry="3.9"/>
<ellipse cx="147.1" cy="109.4" rx="3.9" ry="3.6"/>
<ellipse cx="162.4" cy="107.6" rx="2.6" ry="2.6"/>
<ellipse cx="134.2" cy="117.4" rx="3.2" ry="4.7"/>
<ellipse cx="155.0" cy="113.7" rx="2.8" ry="2.8"/>
<ellipse cx="157.5" cy="119.2" rx="3.9" ry="4.7"/>
<ellipse cx="164.2" cy="120.4" rx="4.7" ry="3.9"/>
<ellipse cx="170.3" cy="119.2" rx="2.6" ry="2.6"/>
<ellipse cx="141.6" cy="123.5" rx="6.7" ry="7.4"/>
<ellipse cx="152.6" cy="126.0" rx="5.4" ry="5.4"/>
<ellipse cx="172.2" cy="132.1" rx="8.1" ry="7.4"/>
<ellipse cx="174.0" cy="121.7" rx="3.9" ry="3.2"/>
<ellipse cx="186.9" cy="128.4" rx="2.7" ry="2.7"/>
<ellipse cx="134.2" cy="134.5" rx="2.8" ry="3.4"/>
<ellipse cx="145.2" cy="136.3" rx="3.9" ry="3.6"/>
<ellipse cx="150.1" cy="139.4" rx="4.7" ry="4.7"/>
<ellipse cx="139.1" cy="140.6" rx="2.8" ry="2.8"/>
<ellipse cx="134.8" cy="144.3" rx="2.8" ry="2.8"/>
<ellipse cx="191.8" cy="130.8" rx="3.2" ry="5.4"/>
<ellipse cx="180.7" cy="139.4" rx="2.8" ry="2.8"/>
<ellipse cx="171.0" cy="141.9" rx="2.8" ry="2.6"/>
<ellipse cx="205.2" cy="93.5" rx="5.4" ry="6.7"/>
<ellipse cx="231.0" cy="96.6" rx="7.4" ry="6.0"/>
<ellipse cx="242.0" cy="90.4" rx="4.7" ry="3.9"/>
<ellipse cx="250.5" cy="89.8" rx="3.2" ry="3.2"/>
<ellipse cx="194.2" cy="101.5" rx="3.2" ry="3.9"/>
<ellipse cx="199.7" cy="100.2" rx="3.9" ry="3.2"/>
<ellipse cx="204.6" cy="107.6" rx="4.7" ry="3.9"/>
<ellipse cx="212.6" cy="110.6" rx="4.7" ry="5.4"/>
<ellipse cx="219.9" cy="104.5" rx="3.6" ry="2.8"/>
<ellipse cx="226.7" cy="110.0" rx="2.9" ry="2.9"/>
<ellipse cx="233.4" cy="103.3" rx="3.9" ry="3.2"/>
<ellipse cx="238.9" cy="113.1" rx="3.9" ry="4.7"/>
<ellipse cx="246.9" cy="113.7" rx="5.4" ry="5.4"/>
<ellipse cx="195.4" cy="113.1" rx="3.9" ry="3.2"/>
<ellipse cx="210.1" cy="118.0" rx="5.4" ry="4.7"/>
<ellipse cx="201.0" cy="122.9" rx="4.7" ry="3.9"/>
<ellipse cx="240.1" cy="123.5" rx="4.7" ry="4.7"/>
<ellipse cx="251.8" cy="120.4" rx="3.2" ry="5.4"/>
<ellipse cx="230.3" cy="127.8" rx="3.9" ry="3.2"/>
<ellipse cx="223.6" cy="125.3" rx="2.6" ry="2.6"/>
<ellipse cx="194.8" cy="130.8" rx="3.9" ry="4.7"/>
<ellipse cx="202.2" cy="138.8" rx="6.0" ry="5.4"/>
<ellipse cx="213.2" cy="137.6" rx="6.0" ry="5.4"/>
<ellipse cx="235.8" cy="144.3" rx="7.4" ry="4.7"/>
<ellipse cx="246.9" cy="144.3" rx="4.7" ry="3.9"/>
<ellipse cx="229.7" cy="135.1" rx="2.8" ry="2.8"/>
<ellipse cx="210.1" cy="133.3" rx="2.6" ry="2.6"/>
</g>
<g filter="url(#warp2)">
<ellipse cx="182.0" cy="36.0" rx="5.6" ry="4.9" fill="url(#pgm)"/>
<ellipse cx="169.7" cy="29.8" rx="1.4" ry="1.4" fill="url(#pg)"/>
<ellipse cx="165.4" cy="39.6" rx="1.7" ry="1.7" fill="url(#pg)"/>
<ellipse cx="155.6" cy="42.7" rx="2.1" ry="1.7" fill="url(#pg)"/>
<ellipse cx="171.0" cy="45.7" rx="4.9" ry="4.9" fill="url(#pgm)"/>
<ellipse cx="183.8" cy="44.5" rx="4.3" ry="2.8" fill="url(#pgm)"/>
<ellipse cx="190.5" cy="41.5" rx="2.1" ry="3.6" fill="url(#pg)"/>
<ellipse cx="140.3" cy="48.8" rx="6.3" ry="3.6" fill="url(#pgm)"/>
<ellipse cx="150.7" cy="53.7" rx="4.3" ry="4.3" fill="url(#pg)"/>
<ellipse cx="134.2" cy="56.8" rx="1.4" ry="2.1" fill="url(#pg)"/>
<ellipse cx="166.7" cy="54.3" rx="1.7" ry="1.7" fill="url(#pg)"/>
<ellipse cx="182.0" cy="53.7" rx="2.8" ry="2.1" fill="url(#pg)"/>
<ellipse cx="189.3" cy="56.2" rx="2.8" ry="2.8" fill="url(#pg)"/>
<ellipse cx="144.0" cy="60.4" rx="7.0" ry="4.9" fill="url(#pgm)"/>
<ellipse cx="169.7" cy="61.0" rx="2.1" ry="2.1" fill="url(#pg)"/>
<ellipse cx="178.9" cy="62.9" rx="6.3" ry="4.9" fill="url(#pgm)"/>
<ellipse cx="155.6" cy="68.4" rx="3.6" ry="4.3" fill="url(#pgm)"/>
<ellipse cx="173.4" cy="69.6" rx="5.6" ry="4.9" fill="url(#pg)"/>
<ellipse cx="164.8" cy="67.2" rx="1.4" ry="1.4" fill="url(#pg)"/>
<ellipse cx="147.7" cy="71.5" rx="4.9" ry="4.9" fill="url(#pg)"/>
<ellipse cx="136.7" cy="74.5" rx="4.3" ry="5.6" fill="url(#pgm)"/>
<ellipse cx="145.2" cy="80.0" rx="3.6" ry="3.6" fill="url(#pg)"/>
<ellipse cx="179.5" cy="79.4" rx="7.7" ry="6.3" fill="url(#pgm)"/>
<ellipse cx="188.1" cy="73.3" rx="2.8" ry="2.8" fill="url(#pg)"/>
<ellipse cx="163.0" cy="76.3" rx="1.5" ry="1.5" fill="url(#pg)"/>
<ellipse cx="136.0" cy="83.7" rx="3.6" ry="2.8" fill="url(#pg)"/>
<ellipse cx="154.4" cy="85.5" rx="2.8" ry="2.1" fill="url(#pg)"/>
<ellipse cx="164.2" cy="85.5" rx="2.8" ry="2.1" fill="url(#pg)"/>
<ellipse cx="190.5" cy="84.9" rx="2.8" ry="2.8" fill="url(#pg)"/>
<ellipse cx="194.2" cy="45.1" rx="2.8" ry="4.9" fill="url(#pg)"/>
<ellipse cx="195.4" cy="59.8" rx="2.1" ry="2.8" fill="url(#pg)"/>
<ellipse cx="219.3" cy="29.5" rx="3.4" ry="1.7" fill="url(#pg)"/>
<ellipse cx="242.0" cy="29.5" rx="3.4" ry="1.7" fill="url(#pg)"/>
<ellipse cx="251.1" cy="52.5" rx="1.7" ry="3.4" fill="url(#pg)"/>
<ellipse cx="212.6" cy="67.8" rx="4.3" ry="2.8" fill="url(#pg)"/>
<ellipse cx="205.2" cy="75.7" rx="4.9" ry="4.9" fill="url(#pgm)"/>
<ellipse cx="228.5" cy="76.3" rx="2.8" ry="2.8" fill="url(#pg)"/>
<ellipse cx="242.0" cy="67.8" rx="4.9" ry="2.8" fill="url(#pgm)"/>
<ellipse cx="217.5" cy="81.9" rx="5.6" ry="4.9" fill="url(#pgm)"/>
<ellipse cx="246.9" cy="83.1" rx="4.3" ry="3.6" fill="url(#pg)"/>
<ellipse cx="237.1" cy="85.5" rx="2.8" ry="2.1" fill="url(#pg)"/>
<ellipse cx="196.1" cy="80.6" rx="2.8" ry="2.8" fill="url(#pg)"/>
<ellipse cx="226.0" cy="68.4" rx="1.5" ry="1.5" fill="url(#pg)"/>
<ellipse cx="234.6" cy="79.4" rx="1.7" ry="1.7" fill="url(#pg)"/>
<ellipse cx="134.8" cy="89.8" rx="2.8" ry="2.8" fill="url(#pg)"/>
<ellipse cx="163.6" cy="89.8" rx="2.8" ry="2.1" fill="url(#pg)"/>
<ellipse cx="156.9" cy="91.7" rx="2.1" ry="2.1" fill="url(#pg)"/>
<ellipse cx="179.5" cy="93.5" rx="3.6" ry="3.6" fill="url(#pgm)"/>
<ellipse cx="168.5" cy="94.1" rx="1.6" ry="1.6" fill="url(#pg)"/>
<ellipse cx="148.3" cy="97.2" rx="2.1" ry="1.7" fill="url(#pg)"/>
<ellipse cx="153.2" cy="99.6" rx="2.5" ry="2.1" fill="url(#pg)"/>
<ellipse cx="161.8" cy="100.2" rx="1.6" ry="1.6" fill="url(#pg)"/>
<ellipse cx="172.8" cy="100.2" rx="2.5" ry="2.5" fill="url(#pgm)"/>
<ellipse cx="184.4" cy="102.7" rx="2.8" ry="2.8" fill="url(#pgm)"/>
<ellipse cx="191.8" cy="99.6" rx="1.6" ry="1.6" fill="url(#pg)"/>
<ellipse cx="175.8" cy="110.6" rx="5.6" ry="4.9" fill="url(#pg)"/>
<ellipse cx="141.6" cy="110.6" rx="2.8" ry="2.8" fill="url(#pg)"/>
<ellipse cx="147.1" cy="109.4" rx="2.8" ry="2.5" fill="url(#pgm)"/>
<ellipse cx="162.4" cy="107.6" rx="1.5" ry="1.5" fill="url(#pg)"/>
<ellipse cx="134.2" cy="117.4" rx="2.1" ry="3.6" fill="url(#pgm)"/>
<ellipse cx="155.0" cy="113.7" rx="1.7" ry="1.7" fill="url(#pg)"/>
<ellipse cx="157.5" cy="119.2" rx="2.8" ry="3.6" fill="url(#pg)"/>
<ellipse cx="164.2" cy="120.4" rx="3.6" ry="2.8" fill="url(#pg)"/>
<ellipse cx="170.3" cy="119.2" rx="1.5" ry="1.5" fill="url(#pg)"/>
<ellipse cx="141.6" cy="123.5" rx="5.6" ry="6.3" fill="url(#pgm)"/>
<ellipse cx="152.6" cy="126.0" rx="4.3" ry="4.3" fill="url(#pgm)"/>
<ellipse cx="172.2" cy="132.1" rx="7.0" ry="6.3" fill="url(#pg)"/>
<ellipse cx="174.0" cy="121.7" rx="2.8" ry="2.1" fill="url(#pg)"/>
<ellipse cx="186.9" cy="128.4" rx="1.6" ry="1.6" fill="url(#pg)"/>
<ellipse cx="134.2" cy="134.5" rx="1.7" ry="2.3" fill="url(#pg)"/>
<ellipse cx="145.2" cy="136.3" rx="2.8" ry="2.5" fill="url(#pg)"/>
<ellipse cx="150.1" cy="139.4" rx="3.6" ry="3.6" fill="url(#pgm)"/>
<ellipse cx="139.1" cy="140.6" rx="1.7" ry="1.7" fill="url(#pg)"/>
<ellipse cx="134.8" cy="144.3" rx="1.7" ry="1.7" fill="url(#pg)"/>
<ellipse cx="191.8" cy="130.8" rx="2.1" ry="4.3" fill="url(#pg)"/>
<ellipse cx="180.7" cy="139.4" rx="1.7" ry="1.7" fill="url(#pg)"/>
<ellipse cx="171.0" cy="141.9" rx="1.7" ry="1.5" fill="url(#pg)"/>
<ellipse cx="205.2" cy="93.5" rx="4.3" ry="5.6" fill="url(#pg)"/>
<ellipse cx="231.0" cy="96.6" rx="6.3" ry="4.9" fill="url(#pgm)"/>
<ellipse cx="242.0" cy="90.4" rx="3.6" ry="2.8" fill="url(#pg)"/>
<ellipse cx="250.5" cy="89.8" rx="2.1" ry="2.1" fill="url(#pg)"/>
<ellipse cx="194.2" cy="101.5" rx="2.1" ry="2.8" fill="url(#pg)"/>
<ellipse cx="199.7" cy="100.2" rx="2.8" ry="2.1" fill="url(#pgm)"/>
<ellipse cx="204.6" cy="107.6" rx="3.6" ry="2.8" fill="url(#pg)"/>
<ellipse cx="212.6" cy="110.6" rx="3.6" ry="4.3" fill="url(#pg)"/>
<ellipse cx="219.9" cy="104.5" rx="2.5" ry="1.7" fill="url(#pg)"/>
<ellipse cx="226.7" cy="110.0" rx="1.8" ry="1.8" fill="url(#pg)"/>
<ellipse cx="233.4" cy="103.3" rx="2.8" ry="2.1" fill="url(#pg)"/>
<ellipse cx="238.9" cy="113.1" rx="2.8" ry="3.6" fill="url(#pg)"/>
<ellipse cx="246.9" cy="113.7" rx="4.3" ry="4.3" fill="url(#pgm)"/>
<ellipse cx="195.4" cy="113.1" rx="2.8" ry="2.1" fill="url(#pg)"/>
<ellipse cx="210.1" cy="118.0" rx="4.3" ry="3.6" fill="url(#pgm)"/>
<ellipse cx="201.0" cy="122.9" rx="3.6" ry="2.8" fill="url(#pg)"/>
<ellipse cx="240.1" cy="123.5" rx="3.6" ry="3.6" fill="url(#pgm)"/>
<ellipse cx="251.8" cy="120.4" rx="2.1" ry="4.3" fill="url(#pg)"/>
<ellipse cx="230.3" cy="127.8" rx="2.8" ry="2.1" fill="url(#pg)"/>
<ellipse cx="223.6" cy="125.3" rx="1.5" ry="1.5" fill="url(#pg)"/>
<ellipse cx="194.8" cy="130.8" rx="2.8" ry="3.6" fill="url(#pg)"/>
<ellipse cx="202.2" cy="138.8" rx="4.9" ry="4.3" fill="url(#pgm)"/>
<ellipse cx="213.2" cy="137.6" rx="4.9" ry="4.3" fill="url(#pg)"/>
<ellipse cx="235.8" cy="144.3" rx="6.3" ry="3.6" fill="url(#pg)"/>
<ellipse cx="246.9" cy="144.3" rx="3.6" ry="2.8" fill="url(#pg)"/>
<ellipse cx="229.7" cy="135.1" rx="1.7" ry="1.7" fill="url(#pg)"/>
<ellipse cx="210.1" cy="133.3" rx="1.5" ry="1.5" fill="url(#pg)"/>
</g>
</g>
<clipPath id="csc"><rect x="262.0" y="28.0" width="120.5" height="119.5"/></clipPath>
<g clip-path="url(#csc)">
<rect x="262.0" y="28.0" width="120.5" height="119.5" fill="#a9a9a9"/>
<rect x="262.0" y="28.0" width="120.5" height="119.5" filter="url(#semN3)"/>
<g filter="url(#bl8)" fill="#e2e2e2">
<ellipse cx="291.4" cy="29.8" rx="9.3" ry="3.1"/>
<ellipse cx="311.0" cy="29.8" rx="7.7" ry="3.1"/>
<ellipse cx="286.5" cy="38.4" rx="8.5" ry="5.3"/>
<ellipse cx="304.8" cy="42.7" rx="6.1" ry="3.5"/>
<ellipse cx="313.4" cy="33.5" rx="6.9" ry="4.3"/>
<ellipse cx="264.4" cy="45.7" rx="3.5" ry="3.5"/>
<ellipse cx="286.5" cy="49.4" rx="5.3" ry="4.3"/>
<ellipse cx="299.3" cy="50.6" rx="7.7" ry="7.7"/>
<ellipse cx="309.7" cy="51.3" rx="4.3" ry="4.3"/>
<ellipse cx="279.1" cy="54.3" rx="5.3" ry="5.3"/>
<ellipse cx="318.3" cy="56.2" rx="5.3" ry="6.1"/>
<ellipse cx="263.8" cy="58.6" rx="3.5" ry="5.3"/>
<ellipse cx="292.0" cy="61.0" rx="5.3" ry="4.3"/>
<ellipse cx="299.3" cy="64.7" rx="9.3" ry="6.9"/>
<ellipse cx="309.1" cy="66.6" rx="5.3" ry="5.3"/>
<ellipse cx="317.1" cy="65.3" rx="5.3" ry="5.3"/>
<ellipse cx="273.6" cy="70.2" rx="5.3" ry="5.3"/>
<ellipse cx="281.0" cy="71.5" rx="4.3" ry="4.3"/>
<ellipse cx="266.9" cy="78.2" rx="3.5" ry="3.5"/>
<ellipse cx="281.6" cy="84.3" rx="7.7" ry="6.1"/>
<ellipse cx="301.2" cy="81.9" rx="6.1" ry="5.3"/>
<ellipse cx="315.9" cy="77.0" rx="7.7" ry="5.3"/>
<ellipse cx="318.3" cy="85.5" rx="5.3" ry="3.5"/>
<ellipse cx="292.6" cy="74.5" rx="3.5" ry="3.5"/>
<ellipse cx="326.9" cy="40.2" rx="4.3" ry="6.1"/>
<ellipse cx="329.3" cy="51.9" rx="3.8" ry="5.2"/>
<ellipse cx="325.7" cy="58.6" rx="3.8" ry="3.8"/>
<ellipse cx="328.7" cy="66.0" rx="3.1" ry="3.1"/>
<ellipse cx="355.0" cy="69.6" rx="9.3" ry="5.3"/>
<ellipse cx="346.5" cy="70.2" rx="4.3" ry="3.5"/>
<ellipse cx="371.0" cy="73.9" rx="8.5" ry="8.5"/>
<ellipse cx="344.0" cy="79.4" rx="6.9" ry="6.9"/>
<ellipse cx="355.0" cy="79.4" rx="4.3" ry="4.3"/>
<ellipse cx="325.7" cy="75.7" rx="5.3" ry="5.3"/>
<ellipse cx="334.2" cy="83.1" rx="4.3" ry="4.3"/>
<ellipse cx="377.1" cy="84.3" rx="6.1" ry="4.3"/>
<ellipse cx="379.5" cy="68.4" rx="3.5" ry="3.5"/>
<ellipse cx="323.2" cy="84.3" rx="3.5" ry="5.2"/>
<ellipse cx="281.6" cy="91.1" rx="8.5" ry="6.9"/>
<ellipse cx="291.4" cy="95.3" rx="6.1" ry="5.3"/>
<ellipse cx="298.7" cy="89.2" rx="5.3" ry="3.5"/>
<ellipse cx="311.0" cy="92.9" rx="4.3" ry="3.5"/>
<ellipse cx="318.3" cy="89.8" rx="5.3" ry="3.5"/>
<ellipse cx="284.0" cy="102.7" rx="6.9" ry="4.3"/>
<ellipse cx="295.7" cy="105.7" rx="4.3" ry="5.3"/>
<ellipse cx="304.2" cy="108.8" rx="6.9" ry="6.1"/>
<ellipse cx="307.9" cy="102.1" rx="3.5" ry="3.1"/>
<ellipse cx="315.9" cy="106.4" rx="5.3" ry="4.3"/>
<ellipse cx="264.4" cy="111.9" rx="3.5" ry="4.3"/>
<ellipse cx="289.5" cy="116.8" rx="9.3" ry="6.9"/>
<ellipse cx="317.1" cy="115.5" rx="6.1" ry="5.3"/>
<ellipse cx="276.1" cy="124.1" rx="8.5" ry="7.7"/>
<ellipse cx="287.7" cy="126.6" rx="4.3" ry="4.3"/>
<ellipse cx="298.7" cy="125.3" rx="4.3" ry="4.3"/>
<ellipse cx="306.1" cy="129.6" rx="6.1" ry="4.3"/>
<ellipse cx="315.9" cy="124.1" rx="4.3" ry="4.3"/>
<ellipse cx="263.2" cy="129.6" rx="3.1" ry="4.3"/>
<ellipse cx="296.3" cy="137.0" rx="6.1" ry="5.3"/>
<ellipse cx="303.6" cy="140.6" rx="7.7" ry="6.1"/>
<ellipse cx="285.3" cy="143.7" rx="8.5" ry="6.1"/>
<ellipse cx="314.6" cy="140.6" rx="6.1" ry="6.9"/>
<ellipse cx="269.3" cy="140.6" rx="4.3" ry="3.5"/>
<ellipse cx="275.5" cy="134.5" rx="3.1" ry="3.1"/>
<ellipse cx="331.8" cy="94.1" rx="8.5" ry="7.7"/>
<ellipse cx="323.2" cy="102.7" rx="4.3" ry="4.3"/>
<ellipse cx="351.4" cy="89.2" rx="5.2" ry="2.7"/>
<ellipse cx="369.7" cy="99.6" rx="5.3" ry="5.3"/>
<ellipse cx="379.5" cy="91.7" rx="3.5" ry="5.3"/>
<ellipse cx="353.8" cy="105.1" rx="4.3" ry="4.3"/>
<ellipse cx="361.8" cy="105.7" rx="5.3" ry="5.3"/>
<ellipse cx="330.0" cy="107.6" rx="4.3" ry="3.1"/>
<ellipse cx="337.9" cy="115.5" rx="8.5" ry="8.5"/>
<ellipse cx="352.6" cy="113.1" rx="5.3" ry="4.3"/>
<ellipse cx="358.1" cy="114.9" rx="3.5" ry="3.5"/>
<ellipse cx="349.5" cy="119.2" rx="5.3" ry="4.3"/>
<ellipse cx="370.3" cy="122.3" rx="9.3" ry="9.3"/>
<ellipse cx="380.1" cy="122.3" rx="3.5" ry="6.1"/>
<ellipse cx="325.7" cy="125.9" rx="7.7" ry="6.9"/>
<ellipse cx="339.1" cy="130.8" rx="5.3" ry="5.3"/>
<ellipse cx="350.8" cy="133.3" rx="10.1" ry="9.3"/>
<ellipse cx="339.1" cy="138.2" rx="3.5" ry="3.5"/>
<ellipse cx="324.4" cy="140.6" rx="4.3" ry="6.1"/>
<ellipse cx="375.9" cy="143.7" rx="4.3" ry="3.5"/>
<ellipse cx="356.3" cy="143.7" rx="5.3" ry="3.1"/>
<ellipse cx="378.3" cy="134.5" rx="3.1" ry="3.1"/>
</g>
<g filter="url(#bl8)" fill="#f8f8f8">
<ellipse cx="343.4" cy="104.2" rx="3.2" ry="2.6"/>
<ellipse cx="270.6" cy="107.6" rx="4.2" ry="3.0"/>
<ellipse cx="295.0" cy="91.7" rx="3.0" ry="3.0"/>
<ellipse cx="276.5" cy="77.5" rx="2.5" ry="2.0"/>
<ellipse cx="287.0" cy="58.0" rx="4.0" ry="2.5"/>
</g>
<g filter="url(#warp3)">
<ellipse cx="291.4" cy="29.8" rx="8.2" ry="2.0" fill="url(#pg)"/>
<ellipse cx="311.0" cy="29.8" rx="6.6" ry="2.0" fill="url(#pg)"/>
<ellipse cx="286.5" cy="38.4" rx="7.4" ry="4.2" fill="url(#pg)"/>
<ellipse cx="304.8" cy="42.7" rx="5.0" ry="2.4" fill="url(#pg)"/>
<ellipse cx="313.4" cy="33.5" rx="5.8" ry="3.2" fill="url(#pgm)"/>
<ellipse cx="264.4" cy="45.7" rx="2.4" ry="2.4" fill="url(#pg)"/>
<ellipse cx="286.5" cy="49.4" rx="4.2" ry="3.2" fill="url(#pg)"/>
<ellipse cx="299.3" cy="50.6" rx="6.6" ry="6.6" fill="url(#pg)"/>
<ellipse cx="309.7" cy="51.3" rx="3.2" ry="3.2" fill="url(#pgm)"/>
<ellipse cx="279.1" cy="54.3" rx="4.2" ry="4.2" fill="url(#pg)"/>
<ellipse cx="318.3" cy="56.2" rx="4.2" ry="5.0" fill="url(#pg)"/>
<ellipse cx="263.8" cy="58.6" rx="2.4" ry="4.2" fill="url(#pg)"/>
<ellipse cx="292.0" cy="61.0" rx="4.2" ry="3.2" fill="url(#pg)"/>
<ellipse cx="299.3" cy="64.7" rx="8.2" ry="5.8" fill="url(#pg)"/>
<ellipse cx="309.1" cy="66.6" rx="4.2" ry="4.2" fill="url(#pgm)"/>
<ellipse cx="317.1" cy="65.3" rx="4.2" ry="4.2" fill="url(#pgm)"/>
<ellipse cx="273.6" cy="70.2" rx="4.2" ry="4.2" fill="url(#pg)"/>
<ellipse cx="281.0" cy="71.5" rx="3.2" ry="3.2" fill="url(#pg)"/>
<ellipse cx="266.9" cy="78.2" rx="2.4" ry="2.4" fill="url(#pg)"/>
<ellipse cx="281.6" cy="84.3" rx="6.6" ry="5.0" fill="url(#pg)"/>
<ellipse cx="301.2" cy="81.9" rx="5.0" ry="4.2" fill="url(#pg)"/>
<ellipse cx="315.9" cy="77.0" rx="6.6" ry="4.2" fill="url(#pg)"/>
<ellipse cx="318.3" cy="85.5" rx="4.2" ry="2.4" fill="url(#pg)"/>
<ellipse cx="292.6" cy="74.5" rx="2.4" ry="2.4" fill="url(#pg)"/>
<ellipse cx="326.9" cy="40.2" rx="3.2" ry="5.0" fill="url(#pgm)"/>
<ellipse cx="329.3" cy="51.9" rx="2.7" ry="4.1" fill="url(#pg)"/>
<ellipse cx="325.7" cy="58.6" rx="2.7" ry="2.7" fill="url(#pg)"/>
<ellipse cx="328.7" cy="66.0" rx="2.0" ry="2.0" fill="url(#pg)"/>
<ellipse cx="355.0" cy="69.6" rx="8.2" ry="4.2" fill="url(#pg)"/>
<ellipse cx="346.5" cy="70.2" rx="3.2" ry="2.4" fill="url(#pg)"/>
<ellipse cx="371.0" cy="73.9" rx="7.4" ry="7.4" fill="url(#pgm)"/>
<ellipse cx="344.0" cy="79.4" rx="5.8" ry="5.8" fill="url(#pg)"/>
<ellipse cx="355.0" cy="79.4" rx="3.2" ry="3.2" fill="url(#pgm)"/>
<ellipse cx="325.7" cy="75.7" rx="4.2" ry="4.2" fill="url(#pg)"/>
<ellipse cx="334.2" cy="83.1" rx="3.2" ry="3.2" fill="url(#pg)"/>
<ellipse cx="377.1" cy="84.3" rx="5.0" ry="3.2" fill="url(#pg)"/>
<ellipse cx="379.5" cy="68.4" rx="2.4" ry="2.4" fill="url(#pg)"/>
<ellipse cx="323.2" cy="84.3" rx="2.4" ry="4.1" fill="url(#pg)"/>
<ellipse cx="281.6" cy="91.1" rx="7.4" ry="5.8" fill="url(#pg)"/>
<ellipse cx="291.4" cy="95.3" rx="5.0" ry="4.2" fill="url(#pg)"/>
<ellipse cx="298.7" cy="89.2" rx="4.2" ry="2.4" fill="url(#pg)"/>
<ellipse cx="311.0" cy="92.9" rx="3.2" ry="2.4" fill="url(#pg)"/>
<ellipse cx="318.3" cy="89.8" rx="4.2" ry="2.4" fill="url(#pg)"/>
<ellipse cx="284.0" cy="102.7" rx="5.8" ry="3.2" fill="url(#pg)"/>
<ellipse cx="295.7" cy="105.7" rx="3.2" ry="4.2" fill="url(#pg)"/>
<ellipse cx="304.2" cy="108.8" rx="5.8" ry="5.0" fill="url(#pgm)"/>
<ellipse cx="307.9" cy="102.1" rx="2.4" ry="2.0" fill="url(#pg)"/>
<ellipse cx="315.9" cy="106.4" rx="4.2" ry="3.2" fill="url(#pg)"/>
<ellipse cx="264.4" cy="111.9" rx="2.4" ry="3.2" fill="url(#pg)"/>
<ellipse cx="289.5" cy="116.8" rx="8.2" ry="5.8" fill="url(#pg)"/>
<ellipse cx="317.1" cy="115.5" rx="5.0" ry="4.2" fill="url(#pgm)"/>
<ellipse cx="276.1" cy="124.1" rx="7.4" ry="6.6" fill="url(#pg)"/>
<ellipse cx="287.7" cy="126.6" rx="3.2" ry="3.2" fill="url(#pg)"/>
<ellipse cx="298.7" cy="125.3" rx="3.2" ry="3.2" fill="url(#pg)"/>
<ellipse cx="306.1" cy="129.6" rx="5.0" ry="3.2" fill="url(#pg)"/>
<ellipse cx="315.9" cy="124.1" rx="3.2" ry="3.2" fill="url(#pg)"/>
<ellipse cx="263.2" cy="129.6" rx="2.0" ry="3.2" fill="url(#pg)"/>
<ellipse cx="296.3" cy="137.0" rx="5.0" ry="4.2" fill="url(#pg)"/>
<ellipse cx="303.6" cy="140.6" rx="6.6" ry="5.0" fill="url(#pgm)"/>
<ellipse cx="285.3" cy="143.7" rx="7.4" ry="5.0" fill="url(#pg)"/>
<ellipse cx="314.6" cy="140.6" rx="5.0" ry="5.8" fill="url(#pgm)"/>
<ellipse cx="269.3" cy="140.6" rx="3.2" ry="2.4" fill="url(#pg)"/>
<ellipse cx="275.5" cy="134.5" rx="2.0" ry="2.0" fill="url(#pg)"/>
<ellipse cx="331.8" cy="94.1" rx="7.4" ry="6.6" fill="url(#pgm)"/>
<ellipse cx="323.2" cy="102.7" rx="3.2" ry="3.2" fill="url(#pg)"/>
<ellipse cx="351.4" cy="89.2" rx="4.1" ry="1.6" fill="url(#pg)"/>
<ellipse cx="369.7" cy="99.6" rx="4.2" ry="4.2" fill="url(#pg)"/>
<ellipse cx="379.5" cy="91.7" rx="2.4" ry="4.2" fill="url(#pg)"/>
<ellipse cx="353.8" cy="105.1" rx="3.2" ry="3.2" fill="url(#pg)"/>
<ellipse cx="361.8" cy="105.7" rx="4.2" ry="4.2" fill="url(#pgm)"/>
<ellipse cx="330.0" cy="107.6" rx="3.2" ry="2.0" fill="url(#pg)"/>
<ellipse cx="337.9" cy="115.5" rx="7.4" ry="7.4" fill="url(#pgm)"/>
<ellipse cx="352.6" cy="113.1" rx="4.2" ry="3.2" fill="url(#pg)"/>
<ellipse cx="358.1" cy="114.9" rx="2.4" ry="2.4" fill="url(#pg)"/>
<ellipse cx="349.5" cy="119.2" rx="4.2" ry="3.2" fill="url(#pg)"/>
<ellipse cx="370.3" cy="122.3" rx="8.2" ry="8.2" fill="url(#pgm)"/>
<ellipse cx="380.1" cy="122.3" rx="2.4" ry="5.0" fill="url(#pg)"/>
<ellipse cx="325.7" cy="125.9" rx="6.6" ry="5.8" fill="url(#pgm)"/>
<ellipse cx="339.1" cy="130.8" rx="4.2" ry="4.2" fill="url(#pg)"/>
<ellipse cx="350.8" cy="133.3" rx="9.0" ry="8.2" fill="url(#pgm)"/>
<ellipse cx="339.1" cy="138.2" rx="2.4" ry="2.4" fill="url(#pg)"/>
<ellipse cx="324.4" cy="140.6" rx="3.2" ry="5.0" fill="url(#pg)"/>
<ellipse cx="375.9" cy="143.7" rx="3.2" ry="2.4" fill="url(#pg)"/>
<ellipse cx="356.3" cy="143.7" rx="4.2" ry="2.0" fill="url(#pg)"/>
<ellipse cx="378.3" cy="134.5" rx="2.0" ry="2.0" fill="url(#pg)"/>
</g>
</g>
<clipPath id="csd"><rect x="394.0" y="28.0" width="118.6" height="119.5"/></clipPath>
<g clip-path="url(#csd)">
<rect x="394.0" y="28.0" width="118.6" height="119.5" fill="#a9a9a9"/>
<rect x="394.0" y="28.0" width="118.6" height="119.5" filter="url(#semN4)"/>
<g filter="url(#bl8)" fill="#e2e2e2">
<ellipse cx="418.5" cy="31.7" rx="5.7" ry="5.0"/>
<ellipse cx="451.5" cy="34.1" rx="5.0" ry="7.2"/>
<ellipse cx="433.2" cy="34.1" rx="8.7" ry="6.5"/>
<ellipse cx="441.7" cy="42.7" rx="4.1" ry="3.4"/>
<ellipse cx="428.3" cy="43.9" rx="3.4" ry="3.4"/>
<ellipse cx="398.9" cy="53.7" rx="6.5" ry="5.0"/>
<ellipse cx="416.0" cy="57.4" rx="8.0" ry="5.7"/>
<ellipse cx="433.2" cy="51.3" rx="4.1" ry="3.4"/>
<ellipse cx="440.5" cy="50.0" rx="4.1" ry="3.4"/>
<ellipse cx="444.0" cy="62.0" rx="14.8" ry="9.2"/>
<ellipse cx="434.0" cy="63.5" rx="5.1" ry="7.1"/>
<ellipse cx="442.5" cy="61.5" rx="4.1" ry="7.3"/>
<ellipse cx="449.0" cy="60.5" rx="3.6" ry="6.7"/>
<ellipse cx="399.5" cy="64.1" rx="5.0" ry="4.1"/>
<ellipse cx="412.4" cy="71.5" rx="6.5" ry="5.7"/>
<ellipse cx="423.4" cy="66.0" rx="3.0" ry="3.4"/>
<ellipse cx="429.5" cy="75.1" rx="5.0" ry="5.0"/>
<ellipse cx="403.8" cy="78.2" rx="4.1" ry="5.0"/>
<ellipse cx="395.2" cy="74.5" rx="3.0" ry="5.0"/>
<ellipse cx="440.5" cy="83.7" rx="7.2" ry="5.0"/>
<ellipse cx="450.3" cy="79.4" rx="4.1" ry="4.1"/>
<ellipse cx="422.2" cy="80.6" rx="3.0" ry="3.0"/>
<ellipse cx="455.2" cy="35.3" rx="3.6" ry="4.8"/>
<ellipse cx="456.4" cy="61.0" rx="3.6" ry="4.8"/>
<ellipse cx="511.5" cy="58.6" rx="3.0" ry="4.8"/>
<ellipse cx="463.8" cy="70.8" rx="5.0" ry="4.1"/>
<ellipse cx="489.5" cy="70.8" rx="5.0" ry="4.1"/>
<ellipse cx="496.8" cy="70.2" rx="4.1" ry="3.4"/>
<ellipse cx="487.0" cy="75.7" rx="4.1" ry="4.1"/>
<ellipse cx="498.1" cy="78.2" rx="6.5" ry="5.0"/>
<ellipse cx="508.5" cy="74.5" rx="4.1" ry="4.1"/>
<ellipse cx="472.4" cy="81.9" rx="5.0" ry="5.0"/>
<ellipse cx="482.2" cy="84.3" rx="4.1" ry="4.1"/>
<ellipse cx="511.5" cy="85.5" rx="4.1" ry="4.1"/>
<ellipse cx="469.9" cy="73.3" rx="4.1" ry="3.4"/>
<ellipse cx="430.7" cy="105.1" rx="11.1" ry="11.8"/>
<ellipse cx="442.0" cy="89.5" rx="8.0" ry="7.3"/>
<ellipse cx="416.6" cy="92.9" rx="3.4" ry="3.4"/>
<ellipse cx="408.7" cy="99.0" rx="3.4" ry="4.1"/>
<ellipse cx="397.7" cy="99.0" rx="4.1" ry="5.0"/>
<ellipse cx="413.6" cy="105.1" rx="3.4" ry="4.1"/>
<ellipse cx="400.1" cy="111.9" rx="5.0" ry="6.5"/>
<ellipse cx="410.5" cy="114.9" rx="4.1" ry="5.0"/>
<ellipse cx="418.5" cy="119.2" rx="4.1" ry="4.1"/>
<ellipse cx="395.8" cy="117.4" rx="3.4" ry="4.1"/>
<ellipse cx="446.6" cy="100.2" rx="4.1" ry="4.1"/>
<ellipse cx="434.4" cy="116.2" rx="5.7" ry="3.4"/>
<ellipse cx="436.8" cy="123.5" rx="6.5" ry="5.0"/>
<ellipse cx="450.3" cy="123.5" rx="5.0" ry="8.7"/>
<ellipse cx="398.9" cy="127.2" rx="5.0" ry="5.7"/>
<ellipse cx="406.9" cy="130.8" rx="4.1" ry="5.7"/>
<ellipse cx="418.5" cy="129.6" rx="8.0" ry="5.7"/>
<ellipse cx="433.2" cy="135.1" rx="5.0" ry="5.0"/>
<ellipse cx="415.4" cy="143.1" rx="9.5" ry="5.7"/>
<ellipse cx="443.0" cy="138.2" rx="4.1" ry="3.4"/>
<ellipse cx="450.3" cy="137.0" rx="4.1" ry="4.1"/>
<ellipse cx="424.6" cy="143.7" rx="5.0" ry="4.1"/>
<ellipse cx="462.0" cy="90.4" rx="5.0" ry="5.0"/>
<ellipse cx="453.0" cy="77.8" rx="4.2" ry="3.0"/>
<ellipse cx="453.5" cy="84.7" rx="3.0" ry="3.0"/>
<ellipse cx="477.3" cy="89.8" rx="3.4" ry="3.4"/>
<ellipse cx="496.8" cy="96.0" rx="7.2" ry="5.7"/>
<ellipse cx="483.4" cy="97.2" rx="3.4" ry="3.4"/>
<ellipse cx="476.0" cy="100.9" rx="4.1" ry="4.1"/>
<ellipse cx="466.2" cy="105.1" rx="3.4" ry="3.4"/>
<ellipse cx="485.8" cy="106.4" rx="8.0" ry="6.5"/>
<ellipse cx="501.1" cy="105.7" rx="6.5" ry="5.0"/>
<ellipse cx="510.3" cy="114.3" rx="4.1" ry="5.7"/>
<ellipse cx="471.1" cy="116.8" rx="5.0" ry="4.1"/>
<ellipse cx="486.4" cy="120.4" rx="6.5" ry="5.0"/>
<ellipse cx="501.7" cy="121.0" rx="5.0" ry="6.5"/>
<ellipse cx="456.4" cy="122.3" rx="8.0" ry="10.2"/>
<ellipse cx="476.0" cy="128.4" rx="6.5" ry="6.5"/>
<ellipse cx="466.2" cy="132.1" rx="3.4" ry="5.0"/>
<ellipse cx="458.9" cy="135.7" rx="5.0" ry="5.7"/>
<ellipse cx="507.9" cy="134.5" rx="6.5" ry="6.5"/>
<ellipse cx="493.2" cy="132.1" rx="3.0" ry="3.0"/>
<ellipse cx="466.2" cy="143.7" rx="5.7" ry="4.1"/>
<ellipse cx="482.2" cy="93.5" rx="3.0" ry="3.0"/>
</g>
<g filter="url(#warp4)">
<ellipse cx="418.5" cy="31.7" rx="4.6" ry="3.9" fill="url(#pg)"/>
<ellipse cx="451.5" cy="34.1" rx="3.9" ry="6.1" fill="url(#pg)"/>
<ellipse cx="433.2" cy="34.1" rx="7.6" ry="5.4" fill="url(#pgm)"/>
<ellipse cx="441.7" cy="42.7" rx="3.0" ry="2.2" fill="url(#pg)"/>
<ellipse cx="428.3" cy="43.9" rx="2.2" ry="2.2" fill="url(#pg)"/>
<ellipse cx="398.9" cy="53.7" rx="5.4" ry="3.9" fill="url(#pg)"/>
<ellipse cx="416.0" cy="57.4" rx="6.9" ry="4.6" fill="url(#pg)"/>
<ellipse cx="433.2" cy="51.3" rx="3.0" ry="2.2" fill="url(#pg)"/>
<ellipse cx="440.5" cy="50.0" rx="3.0" ry="2.2" fill="url(#pg)"/>
<ellipse cx="444.0" cy="62.0" rx="13.8" ry="8.1" fill="url(#pgm)"/>
<ellipse cx="434.0" cy="63.5" rx="4.0" ry="6.0" fill="url(#pg)"/>
<ellipse cx="442.5" cy="61.5" rx="3.0" ry="6.2" fill="url(#pg)"/>
<ellipse cx="449.0" cy="60.5" rx="2.5" ry="5.6" fill="url(#pgm)"/>
<ellipse cx="399.5" cy="64.1" rx="3.9" ry="3.0" fill="url(#pg)"/>
<ellipse cx="412.4" cy="71.5" rx="5.4" ry="4.6" fill="url(#pg)"/>
<ellipse cx="423.4" cy="66.0" rx="1.9" ry="2.2" fill="url(#pg)"/>
<ellipse cx="429.5" cy="75.1" rx="3.9" ry="3.9" fill="url(#pg)"/>
<ellipse cx="403.8" cy="78.2" rx="3.0" ry="3.9" fill="url(#pg)"/>
<ellipse cx="395.2" cy="74.5" rx="1.9" ry="3.9" fill="url(#pg)"/>
<ellipse cx="440.5" cy="83.7" rx="6.1" ry="3.9" fill="url(#pg)"/>
<ellipse cx="450.3" cy="79.4" rx="3.0" ry="3.0" fill="url(#pg)"/>
<ellipse cx="422.2" cy="80.6" rx="1.9" ry="1.9" fill="url(#pg)"/>
<ellipse cx="455.2" cy="35.3" rx="2.5" ry="3.8" fill="url(#pg)"/>
<ellipse cx="456.4" cy="61.0" rx="2.5" ry="3.8" fill="url(#pg)"/>
<ellipse cx="511.5" cy="58.6" rx="1.9" ry="3.8" fill="url(#pg)"/>
<ellipse cx="463.8" cy="70.8" rx="3.9" ry="3.0" fill="url(#pg)"/>
<ellipse cx="489.5" cy="70.8" rx="3.9" ry="3.0" fill="url(#pgm)"/>
<ellipse cx="496.8" cy="70.2" rx="3.0" ry="2.2" fill="url(#pg)"/>
<ellipse cx="487.0" cy="75.7" rx="3.0" ry="3.0" fill="url(#pg)"/>
<ellipse cx="498.1" cy="78.2" rx="5.4" ry="3.9" fill="url(#pgm)"/>
<ellipse cx="508.5" cy="74.5" rx="3.0" ry="3.0" fill="url(#pg)"/>
<ellipse cx="472.4" cy="81.9" rx="3.9" ry="3.9" fill="url(#pgm)"/>
<ellipse cx="482.2" cy="84.3" rx="3.0" ry="3.0" fill="url(#pg)"/>
<ellipse cx="511.5" cy="85.5" rx="3.0" ry="3.0" fill="url(#pg)"/>
<ellipse cx="469.9" cy="73.3" rx="3.0" ry="2.2" fill="url(#pg)"/>
<ellipse cx="430.7" cy="105.1" rx="10.0" ry="10.8" fill="url(#pg)"/>
<ellipse cx="442.0" cy="89.5" rx="6.9" ry="6.2" fill="url(#pg)"/>
<ellipse cx="416.6" cy="92.9" rx="2.2" ry="2.2" fill="url(#pg)"/>
<ellipse cx="408.7" cy="99.0" rx="2.2" ry="3.0" fill="url(#pg)"/>
<ellipse cx="397.7" cy="99.0" rx="3.0" ry="3.9" fill="url(#pgm)"/>
<ellipse cx="413.6" cy="105.1" rx="2.2" ry="3.0" fill="url(#pg)"/>
<ellipse cx="400.1" cy="111.9" rx="3.9" ry="5.4" fill="url(#pg)"/>
<ellipse cx="410.5" cy="114.9" rx="3.0" ry="3.9" fill="url(#pg)"/>
<ellipse cx="418.5" cy="119.2" rx="3.0" ry="3.0" fill="url(#pg)"/>
<ellipse cx="395.8" cy="117.4" rx="2.2" ry="3.0" fill="url(#pg)"/>
<ellipse cx="446.6" cy="100.2" rx="3.0" ry="3.0" fill="url(#pg)"/>
<ellipse cx="434.4" cy="116.2" rx="4.6" ry="2.2" fill="url(#pg)"/>
<ellipse cx="436.8" cy="123.5" rx="5.4" ry="3.9" fill="url(#pgm)"/>
<ellipse cx="450.3" cy="123.5" rx="3.9" ry="7.6" fill="url(#pgm)"/>
<ellipse cx="398.9" cy="127.2" rx="3.9" ry="4.6" fill="url(#pg)"/>
<ellipse cx="406.9" cy="130.8" rx="3.0" ry="4.6" fill="url(#pgm)"/>
<ellipse cx="418.5" cy="129.6" rx="6.9" ry="4.6" fill="url(#pg)"/>
<ellipse cx="433.2" cy="135.1" rx="3.9" ry="3.9" fill="url(#pg)"/>
<ellipse cx="415.4" cy="143.1" rx="8.4" ry="4.6" fill="url(#pg)"/>
<ellipse cx="443.0" cy="138.2" rx="3.0" ry="2.2" fill="url(#pg)"/>
<ellipse cx="450.3" cy="137.0" rx="3.0" ry="3.0" fill="url(#pg)"/>
<ellipse cx="424.6" cy="143.7" rx="3.9" ry="3.0" fill="url(#pg)"/>
<ellipse cx="462.0" cy="90.4" rx="3.9" ry="3.9" fill="url(#pg)"/>
<ellipse cx="453.0" cy="77.8" rx="3.1" ry="1.9" fill="url(#pg)"/>
<ellipse cx="453.5" cy="84.7" rx="1.9" ry="1.9" fill="url(#pg)"/>
<ellipse cx="477.3" cy="89.8" rx="2.2" ry="2.2" fill="url(#pg)"/>
<ellipse cx="496.8" cy="96.0" rx="6.1" ry="4.6" fill="url(#pg)"/>
<ellipse cx="483.4" cy="97.2" rx="2.2" ry="2.2" fill="url(#pg)"/>
<ellipse cx="476.0" cy="100.9" rx="3.0" ry="3.0" fill="url(#pg)"/>
<ellipse cx="466.2" cy="105.1" rx="2.2" ry="2.2" fill="url(#pg)"/>
<ellipse cx="485.8" cy="106.4" rx="6.9" ry="5.4" fill="url(#pgm)"/>
<ellipse cx="501.1" cy="105.7" rx="5.4" ry="3.9" fill="url(#pg)"/>
<ellipse cx="510.3" cy="114.3" rx="3.0" ry="4.6" fill="url(#pg)"/>
<ellipse cx="471.1" cy="116.8" rx="3.9" ry="3.0" fill="url(#pg)"/>
<ellipse cx="486.4" cy="120.4" rx="5.4" ry="3.9" fill="url(#pg)"/>
<ellipse cx="501.7" cy="121.0" rx="3.9" ry="5.4" fill="url(#pg)"/>
<ellipse cx="456.4" cy="122.3" rx="6.9" ry="9.1" fill="url(#pg)"/>
<ellipse cx="476.0" cy="128.4" rx="5.4" ry="5.4" fill="url(#pgm)"/>
<ellipse cx="466.2" cy="132.1" rx="2.2" ry="3.9" fill="url(#pg)"/>
<ellipse cx="458.9" cy="135.7" rx="3.9" ry="4.6" fill="url(#pgm)"/>
<ellipse cx="507.9" cy="134.5" rx="5.4" ry="5.4" fill="url(#pgm)"/>
<ellipse cx="493.2" cy="132.1" rx="1.9" ry="1.9" fill="url(#pg)"/>
<ellipse cx="466.2" cy="143.7" rx="4.6" ry="3.0" fill="url(#pg)"/>
<ellipse cx="482.2" cy="93.5" rx="1.9" ry="1.9" fill="url(#pg)"/>
</g>
</g>
<clipPath id="cfe"><rect x="5.0" y="155.0" width="119.0" height="118.3"/></clipPath>
<g clip-path="url(#cfe)">
<rect x="5.0" y="155.0" width="119.0" height="118.3" fill="#c8841c"/>
<rect x="5.0" y="155.0" width="119.0" height="118.3" filter="url(#afmN1)"/>
<g filter="url(#bl8)">
<ellipse cx="14.2" cy="175.2" rx="3.9" ry="3.9" fill="url(#ab1)"/>
<ellipse cx="8.7" cy="197.8" rx="4.5" ry="5.2" fill="url(#ab1)"/>
<ellipse cx="23.4" cy="183.2" rx="3.2" ry="3.9" fill="url(#ab0)"/>
<ellipse cx="20.9" cy="211.3" rx="5.2" ry="3.9" fill="url(#ab1)"/>
<ellipse cx="113.3" cy="176.4" rx="5.2" ry="4.5" fill="url(#ab1)"/>
<ellipse cx="89.5" cy="200.0" rx="3.2" ry="18.2" fill="url(#ab0)"/>
<ellipse cx="107.8" cy="197.8" rx="6.5" ry="7.8" fill="url(#ab1)"/>
<ellipse cx="121.0" cy="212.0" rx="3.9" ry="3.9" fill="url(#ab1)"/>
<ellipse cx="6.8" cy="221.1" rx="3.9" ry="6.5" fill="url(#ab1)"/>
<ellipse cx="35.6" cy="245.6" rx="5.2" ry="3.9" fill="url(#ab1)"/>
<ellipse cx="50.3" cy="248.0" rx="3.9" ry="3.9" fill="url(#ab1)"/>
<ellipse cx="25.8" cy="261.5" rx="5.2" ry="3.9" fill="url(#ab0)"/>
<ellipse cx="17.2" cy="254.2" rx="3.9" ry="2.6" fill="url(#ab0)"/>
<ellipse cx="27.0" cy="219.9" rx="3.9" ry="2.6" fill="url(#ab0)"/>
<ellipse cx="41.7" cy="261.5" rx="3.9" ry="2.6" fill="url(#ab0)"/>
<ellipse cx="107.8" cy="219.9" rx="5.2" ry="5.2" fill="url(#ab1)"/>
<ellipse cx="117.6" cy="235.8" rx="3.9" ry="3.9" fill="url(#ab1)"/>
<ellipse cx="82.1" cy="228.5" rx="3.9" ry="3.9" fill="url(#ab0)"/>
<ellipse cx="104.2" cy="242.0" rx="3.9" ry="5.2" fill="url(#ab1)"/>
<ellipse cx="72.3" cy="266.4" rx="5.2" ry="3.9" fill="url(#ab1)"/>
<ellipse cx="84.6" cy="260.3" rx="3.9" ry="3.9" fill="url(#ab0)"/>
</g>
<ellipse cx="61.0" cy="220.0" rx="15.0" ry="13.0" fill="url(#ah)"/>
<g filter="url(#warp5)">
<ellipse cx="7.5" cy="183.0" rx="3.4" ry="16.2" fill="url(#ag)"/>
<ellipse cx="28.3" cy="176.4" rx="4.1" ry="4.1" fill="url(#ag)"/>
<ellipse cx="40.5" cy="184.4" rx="4.1" ry="3.4" fill="url(#ag)"/>
<ellipse cx="56.4" cy="183.2" rx="5.4" ry="4.1" fill="url(#ag)"/>
<ellipse cx="55.2" cy="197.8" rx="6.8" ry="6.8" fill="url(#ag)"/>
<ellipse cx="24.6" cy="199.0" rx="5.4" ry="5.4" fill="url(#ag)"/>
<ellipse cx="35.6" cy="204.0" rx="4.1" ry="4.1" fill="url(#ag)"/>
<ellipse cx="29.5" cy="190.5" rx="4.1" ry="4.1" fill="url(#ag)"/>
<ellipse cx="16.0" cy="190.5" rx="4.1" ry="4.1" fill="url(#ag)"/>
<ellipse cx="12.3" cy="206.4" rx="4.1" ry="4.1" fill="url(#ag)"/>
<ellipse cx="45.4" cy="194.2" rx="2.7" ry="2.7" fill="url(#ag)"/>
<ellipse cx="82.1" cy="178.9" rx="6.8" ry="5.4" fill="url(#ag)"/>
<ellipse cx="68.7" cy="176.4" rx="4.1" ry="4.1" fill="url(#ag)"/>
<ellipse cx="72.3" cy="194.2" rx="6.8" ry="8.1" fill="url(#ag)"/>
<ellipse cx="82.1" cy="200.3" rx="5.4" ry="6.8" fill="url(#ag)"/>
<ellipse cx="98.0" cy="191.7" rx="4.1" ry="5.4" fill="url(#ag)"/>
<ellipse cx="117.6" cy="186.8" rx="5.4" ry="6.8" fill="url(#ag)"/>
<ellipse cx="118.9" cy="201.5" rx="4.1" ry="5.4" fill="url(#ag)"/>
<ellipse cx="96.8" cy="207.6" rx="5.4" ry="5.4" fill="url(#ag)"/>
<ellipse cx="68.7" cy="206.4" rx="4.1" ry="4.1" fill="url(#ag)"/>
<ellipse cx="61.5" cy="220.5" rx="8.8" ry="9.5" fill="url(#ag)"/>
<ellipse cx="67.0" cy="219.9" rx="4.1" ry="6.8" fill="url(#ag)"/>
<ellipse cx="41.7" cy="224.8" rx="4.1" ry="5.4" fill="url(#ag)"/>
<ellipse cx="18.5" cy="227.2" rx="5.4" ry="5.4" fill="url(#ag)"/>
<ellipse cx="33.2" cy="235.2" rx="5.4" ry="5.4" fill="url(#ag)"/>
<ellipse cx="47.8" cy="239.5" rx="6.8" ry="5.4" fill="url(#ag)"/>
<ellipse cx="18.5" cy="244.4" rx="8.1" ry="6.8" fill="url(#ag)"/>
<ellipse cx="34.4" cy="255.4" rx="6.8" ry="6.8" fill="url(#ag)"/>
<ellipse cx="12.3" cy="261.5" rx="6.8" ry="5.4" fill="url(#ag)"/>
<ellipse cx="54.0" cy="255.4" rx="4.1" ry="6.8" fill="url(#ag)"/>
<ellipse cx="58.9" cy="239.5" rx="4.1" ry="5.4" fill="url(#ag)"/>
<ellipse cx="45.4" cy="267.6" rx="5.4" ry="4.1" fill="url(#ag)"/>
<ellipse cx="6.2" cy="245.6" rx="2.7" ry="6.8" fill="url(#ag)"/>
<ellipse cx="76.0" cy="230.9" rx="5.4" ry="6.8" fill="url(#ag)"/>
<ellipse cx="93.2" cy="239.5" rx="8.1" ry="9.5" fill="url(#ag)"/>
<ellipse cx="72.3" cy="248.0" rx="5.4" ry="6.8" fill="url(#ag)"/>
<ellipse cx="111.5" cy="233.4" rx="5.4" ry="5.4" fill="url(#ag)"/>
<ellipse cx="100.5" cy="222.3" rx="4.1" ry="4.1" fill="url(#ag)"/>
<ellipse cx="118.9" cy="244.4" rx="4.1" ry="5.4" fill="url(#ag)"/>
<ellipse cx="80.9" cy="256.6" rx="5.4" ry="5.4" fill="url(#ag)"/>
<ellipse cx="67.4" cy="261.5" rx="4.1" ry="5.4" fill="url(#ag)"/>
<ellipse cx="88.3" cy="270.0" rx="5.4" ry="4.1" fill="url(#ag)"/>
</g>
<ellipse cx="62.0" cy="220.5" rx="7.0" ry="7.0" fill="url(#ac)"/>
</g>
<clipPath id="cff"><rect x="133.0" y="155.0" width="118.0" height="118.3"/></clipPath>
<g clip-path="url(#cff)">
<rect x="133.0" y="155.0" width="118.0" height="118.3" fill="#c8841c"/>
<rect x="133.0" y="155.0" width="118.0" height="118.3" filter="url(#afmN2)"/>
<g filter="url(#bl8)">
<ellipse cx="163.6" cy="196.6" rx="3.9" ry="3.9" fill="url(#ab1)"/>
<ellipse cx="141.6" cy="204.0" rx="3.9" ry="5.2" fill="url(#ab1)"/>
<ellipse cx="139.1" cy="188.0" rx="3.9" ry="3.9" fill="url(#ab0)"/>
<ellipse cx="221.8" cy="196.6" rx="3.9" ry="5.2" fill="url(#ab1)"/>
<ellipse cx="243.2" cy="195.4" rx="3.9" ry="6.5" fill="url(#ab1)"/>
<ellipse cx="196.7" cy="190.5" rx="3.9" ry="3.9" fill="url(#ab0)"/>
<ellipse cx="233.4" cy="178.3" rx="3.9" ry="3.9" fill="url(#ab0)"/>
<ellipse cx="146.5" cy="224.8" rx="6.5" ry="3.9" fill="url(#ab1)"/>
<ellipse cx="169.7" cy="219.9" rx="3.9" ry="3.9" fill="url(#ab1)"/>
<ellipse cx="168.5" cy="244.4" rx="3.9" ry="5.2" fill="url(#ab1)"/>
<ellipse cx="140.3" cy="245.6" rx="3.9" ry="3.9" fill="url(#ab0)"/>
<ellipse cx="156.3" cy="268.9" rx="3.9" ry="3.9" fill="url(#ab1)"/>
<ellipse cx="135.4" cy="268.9" rx="2.6" ry="3.9" fill="url(#ab1)"/>
<ellipse cx="242.0" cy="238.3" rx="3.9" ry="3.9" fill="url(#ab1)"/>
<ellipse cx="239.5" cy="257.8" rx="3.9" ry="3.9" fill="url(#ab1)"/>
<ellipse cx="218.7" cy="260.3" rx="3.9" ry="3.9" fill="url(#ab0)"/>
</g>
<g filter="url(#warp6)">
<ellipse cx="155.6" cy="164.2" rx="3.6" ry="2.9" fill="url(#ag)"/>
<ellipse cx="140.3" cy="172.7" rx="4.3" ry="2.2" fill="url(#ag)"/>
<ellipse cx="166.0" cy="177.6" rx="5.8" ry="3.6" fill="url(#ag)"/>
<ellipse cx="184.4" cy="176.4" rx="5.8" ry="4.3" fill="url(#ag)"/>
<ellipse cx="145.2" cy="180.1" rx="3.6" ry="2.9" fill="url(#ag)"/>
<ellipse cx="136.7" cy="182.5" rx="4.3" ry="2.9" fill="url(#ag)"/>
<ellipse cx="155.0" cy="181.3" rx="2.9" ry="2.9" fill="url(#ag)"/>
<ellipse cx="173.4" cy="184.4" rx="5.8" ry="3.6" fill="url(#ag)"/>
<ellipse cx="190.5" cy="186.2" rx="4.3" ry="4.3" fill="url(#ag)"/>
<ellipse cx="162.4" cy="188.0" rx="2.9" ry="2.9" fill="url(#ag)"/>
<ellipse cx="151.4" cy="195.4" rx="7.2" ry="10.2" fill="url(#ag)"/>
<ellipse cx="169.7" cy="202.7" rx="5.8" ry="5.8" fill="url(#ag)"/>
<ellipse cx="182.0" cy="208.9" rx="7.2" ry="7.2" fill="url(#ag)"/>
<ellipse cx="188.1" cy="197.8" rx="4.3" ry="4.3" fill="url(#ag)"/>
<ellipse cx="139.1" cy="201.5" rx="4.3" ry="4.3" fill="url(#ag)"/>
<ellipse cx="151.4" cy="212.5" rx="5.8" ry="4.3" fill="url(#ag)"/>
<ellipse cx="164.8" cy="210.1" rx="4.3" ry="2.9" fill="url(#ag)"/>
<ellipse cx="201.6" cy="160.0" rx="5.8" ry="4.3" fill="url(#ag)"/>
<ellipse cx="234.6" cy="167.2" rx="5.8" ry="4.3" fill="url(#ag)"/>
<ellipse cx="206.5" cy="183.2" rx="7.2" ry="5.8" fill="url(#ag)"/>
<ellipse cx="221.2" cy="183.2" rx="3.6" ry="3.6" fill="url(#ag)"/>
<ellipse cx="229.7" cy="193.0" rx="7.2" ry="7.2" fill="url(#ag)"/>
<ellipse cx="237.1" cy="197.8" rx="4.3" ry="4.3" fill="url(#ag)"/>
<ellipse cx="197.9" cy="195.4" rx="4.3" ry="4.3" fill="url(#ag)"/>
<ellipse cx="212.6" cy="193.0" rx="3.6" ry="2.9" fill="url(#ag)"/>
<ellipse cx="205.2" cy="210.1" rx="5.8" ry="5.8" fill="url(#ag)"/>
<ellipse cx="223.6" cy="206.4" rx="4.3" ry="2.9" fill="url(#ag)"/>
<ellipse cx="244.4" cy="208.9" rx="4.3" ry="4.3" fill="url(#ag)"/>
<ellipse cx="249.3" cy="201.5" rx="2.9" ry="5.8" fill="url(#ag)"/>
<ellipse cx="217.5" cy="188.0" rx="2.9" ry="2.9" fill="url(#ag)"/>
<ellipse cx="140.3" cy="219.9" rx="5.8" ry="4.3" fill="url(#ag)"/>
<ellipse cx="157.5" cy="217.4" rx="4.3" ry="2.9" fill="url(#ag)"/>
<ellipse cx="162.4" cy="226.0" rx="5.8" ry="4.3" fill="url(#ag)"/>
<ellipse cx="171.0" cy="228.5" rx="5.8" ry="5.8" fill="url(#ag)"/>
<ellipse cx="183.2" cy="223.6" rx="5.8" ry="4.3" fill="url(#ag)"/>
<ellipse cx="184.4" cy="232.1" rx="4.3" ry="2.9" fill="url(#ag)"/>
<ellipse cx="141.6" cy="233.4" rx="2.9" ry="2.9" fill="url(#ag)"/>
<ellipse cx="151.4" cy="243.2" rx="8.7" ry="7.2" fill="url(#ag)"/>
<ellipse cx="136.7" cy="240.7" rx="2.9" ry="2.9" fill="url(#ag)"/>
<ellipse cx="163.6" cy="237.0" rx="4.3" ry="2.9" fill="url(#ag)"/>
<ellipse cx="162.4" cy="243.2" rx="2.9" ry="4.3" fill="url(#ag)"/>
<ellipse cx="175.8" cy="250.5" rx="4.3" ry="2.9" fill="url(#ag)"/>
<ellipse cx="182.0" cy="257.8" rx="7.2" ry="4.3" fill="url(#ag)"/>
<ellipse cx="190.5" cy="246.8" rx="2.9" ry="4.3" fill="url(#ag)"/>
<ellipse cx="158.7" cy="255.4" rx="4.3" ry="2.9" fill="url(#ag)"/>
<ellipse cx="137.9" cy="261.5" rx="5.8" ry="4.3" fill="url(#ag)"/>
<ellipse cx="148.9" cy="267.6" rx="4.3" ry="5.8" fill="url(#ag)"/>
<ellipse cx="168.5" cy="266.4" rx="4.3" ry="4.3" fill="url(#ag)"/>
<ellipse cx="174.6" cy="268.9" rx="5.8" ry="4.3" fill="url(#ag)"/>
<ellipse cx="189.3" cy="265.2" rx="2.9" ry="2.9" fill="url(#ag)"/>
<ellipse cx="242.0" cy="221.7" rx="7.2" ry="5.8" fill="url(#ag)"/>
<ellipse cx="227.3" cy="218.7" rx="4.3" ry="4.3" fill="url(#ag)"/>
<ellipse cx="213.8" cy="216.8" rx="4.3" ry="2.9" fill="url(#ag)"/>
<ellipse cx="200.3" cy="229.7" rx="7.2" ry="7.2" fill="url(#ag)"/>
<ellipse cx="217.5" cy="227.9" rx="3.6" ry="2.9" fill="url(#ag)"/>
<ellipse cx="231.0" cy="238.3" rx="7.2" ry="7.2" fill="url(#ag)"/>
<ellipse cx="248.1" cy="238.3" rx="2.9" ry="4.3" fill="url(#ag)"/>
<ellipse cx="210.1" cy="246.2" rx="5.8" ry="4.3" fill="url(#ag)"/>
<ellipse cx="204.0" cy="249.3" rx="2.9" ry="2.9" fill="url(#ag)"/>
<ellipse cx="245.6" cy="249.9" rx="2.9" ry="2.9" fill="url(#ag)"/>
<ellipse cx="208.9" cy="260.3" rx="5.8" ry="5.8" fill="url(#ag)"/>
<ellipse cx="227.3" cy="260.3" rx="5.8" ry="4.3" fill="url(#ag)"/>
<ellipse cx="195.4" cy="254.2" rx="2.9" ry="4.3" fill="url(#ag)"/>
<ellipse cx="201.6" cy="270.1" rx="4.3" ry="2.9" fill="url(#ag)"/>
<ellipse cx="229.7" cy="270.1" rx="5.8" ry="2.9" fill="url(#ag)"/>
<ellipse cx="246.9" cy="261.5" rx="2.9" ry="2.9" fill="url(#ag)"/>
</g>
<ellipse cx="182.0" cy="208.9" rx="4.0" ry="4.0" fill="url(#ac)"/>
<ellipse cx="229.7" cy="193.0" rx="4.0" ry="4.0" fill="url(#ac)"/>
<ellipse cx="231.0" cy="238.3" rx="4.0" ry="4.0" fill="url(#ac)"/>
<ellipse cx="206.5" cy="183.2" rx="4.0" ry="3.5" fill="url(#ac)"/>
<ellipse cx="171.0" cy="228.5" rx="3.5" ry="3.5" fill="url(#ac)"/>
<ellipse cx="151.4" cy="195.4" rx="3.5" ry="5.0" fill="url(#ac)"/>
</g>
<clipPath id="cfg"><rect x="262.0" y="155.0" width="119.5" height="118.3"/></clipPath>
<g clip-path="url(#cfg)">
<rect x="262.0" y="155.0" width="119.5" height="118.3" fill="#c8841c"/>
<rect x="262.0" y="155.0" width="119.5" height="118.3" filter="url(#afmN3)"/>
<g filter="url(#bl8)">
<ellipse cx="269.3" cy="179.5" rx="5.2" ry="3.9" fill="url(#ab1)"/>
<ellipse cx="314.6" cy="194.2" rx="7.8" ry="6.5" fill="url(#ab1)"/>
<ellipse cx="277.9" cy="190.5" rx="3.9" ry="3.9" fill="url(#ab0)"/>
<ellipse cx="264.4" cy="200.3" rx="3.9" ry="3.9" fill="url(#ab1)"/>
<ellipse cx="276.7" cy="212.5" rx="3.9" ry="3.9" fill="url(#ab1)"/>
<ellipse cx="357.5" cy="193.0" rx="7.8" ry="9.1" fill="url(#ab1)"/>
<ellipse cx="335.5" cy="186.8" rx="6.5" ry="2.6" fill="url(#ab1)"/>
<ellipse cx="326.9" cy="179.5" rx="3.9" ry="3.9" fill="url(#ab1)"/>
<ellipse cx="375.9" cy="199.0" rx="3.9" ry="3.9" fill="url(#ab0)"/>
<ellipse cx="273.0" cy="219.9" rx="5.2" ry="3.9" fill="url(#ab1)"/>
<ellipse cx="297.5" cy="221.1" rx="3.9" ry="3.9" fill="url(#ab1)"/>
<ellipse cx="315.9" cy="227.2" rx="5.2" ry="3.9" fill="url(#ab1)"/>
<ellipse cx="265.1" cy="239.5" rx="3.9" ry="3.9" fill="url(#ab1)"/>
<ellipse cx="277.9" cy="265.2" rx="3.9" ry="3.9" fill="url(#ab1)"/>
<ellipse cx="298.7" cy="264.0" rx="3.9" ry="3.9" fill="url(#ab0)"/>
<ellipse cx="318.3" cy="271.3" rx="3.9" ry="2.6" fill="url(#ab0)"/>
<ellipse cx="344.0" cy="248.0" rx="3.9" ry="7.8" fill="url(#ab1)"/>
<ellipse cx="374.6" cy="253.0" rx="5.2" ry="7.8" fill="url(#ab1)"/>
<ellipse cx="331.2" cy="256.6" rx="5.2" ry="3.9" fill="url(#ab1)"/>
<ellipse cx="371.0" cy="223.6" rx="3.9" ry="3.9" fill="url(#ab0)"/>
<ellipse cx="325.7" cy="251.7" rx="3.9" ry="3.9" fill="url(#ab0)"/>
</g>
<g filter="url(#warp7)">
<ellipse cx="270.6" cy="188.0" rx="6.8" ry="6.8" fill="url(#ag)"/>
<ellipse cx="266.9" cy="184.4" rx="4.1" ry="4.1" fill="url(#ag)"/>
<ellipse cx="280.4" cy="180.7" rx="4.1" ry="2.7" fill="url(#ag)"/>
<ellipse cx="296.3" cy="177.6" rx="5.4" ry="4.1" fill="url(#ag)"/>
<ellipse cx="290.2" cy="190.5" rx="5.4" ry="5.4" fill="url(#ag)"/>
<ellipse cx="286.5" cy="200.3" rx="6.8" ry="6.8" fill="url(#ag)"/>
<ellipse cx="276.7" cy="201.5" rx="4.1" ry="4.1" fill="url(#ag)"/>
<ellipse cx="302.4" cy="205.2" rx="5.4" ry="5.4" fill="url(#ag)"/>
<ellipse cx="313.4" cy="207.6" rx="6.8" ry="5.4" fill="url(#ag)"/>
<ellipse cx="268.1" cy="206.4" rx="4.1" ry="4.1" fill="url(#ag)"/>
<ellipse cx="306.1" cy="185.6" rx="4.1" ry="4.1" fill="url(#ag)"/>
<ellipse cx="352.6" cy="177.6" rx="6.8" ry="4.1" fill="url(#ag)"/>
<ellipse cx="333.0" cy="194.2" rx="10.8" ry="8.1" fill="url(#ag)"/>
<ellipse cx="342.8" cy="194.2" rx="5.4" ry="5.4" fill="url(#ag)"/>
<ellipse cx="373.4" cy="189.3" rx="8.1" ry="8.1" fill="url(#ag)"/>
<ellipse cx="325.7" cy="201.5" rx="5.4" ry="5.4" fill="url(#ag)"/>
<ellipse cx="337.9" cy="205.2" rx="5.4" ry="4.1" fill="url(#ag)"/>
<ellipse cx="362.4" cy="206.4" rx="4.1" ry="4.1" fill="url(#ag)"/>
<ellipse cx="377.1" cy="206.4" rx="4.1" ry="5.4" fill="url(#ag)"/>
<ellipse cx="330.0" cy="161.0" rx="5.4" ry="4.1" fill="url(#ag)"/>
<ellipse cx="366.0" cy="163.0" rx="5.4" ry="4.1" fill="url(#ag)"/>
<ellipse cx="269.3" cy="229.7" rx="6.8" ry="5.4" fill="url(#ag)"/>
<ellipse cx="290.2" cy="218.7" rx="5.4" ry="4.1" fill="url(#ag)"/>
<ellipse cx="307.3" cy="222.3" rx="5.4" ry="4.1" fill="url(#ag)"/>
<ellipse cx="275.5" cy="239.5" rx="4.1" ry="4.1" fill="url(#ag)"/>
<ellipse cx="291.4" cy="237.0" rx="6.8" ry="4.1" fill="url(#ag)"/>
<ellipse cx="307.3" cy="244.4" rx="5.4" ry="4.1" fill="url(#ag)"/>
<ellipse cx="318.3" cy="239.5" rx="4.1" ry="5.4" fill="url(#ag)"/>
<ellipse cx="296.3" cy="255.4" rx="5.4" ry="4.1" fill="url(#ag)"/>
<ellipse cx="313.4" cy="253.0" rx="6.8" ry="6.8" fill="url(#ag)"/>
<ellipse cx="264.4" cy="260.3" rx="4.1" ry="6.8" fill="url(#ag)"/>
<ellipse cx="286.5" cy="267.6" rx="8.1" ry="5.4" fill="url(#ag)"/>
<ellipse cx="308.5" cy="266.4" rx="5.4" ry="4.1" fill="url(#ag)"/>
<ellipse cx="315.9" cy="261.5" rx="4.1" ry="4.1" fill="url(#ag)"/>
<ellipse cx="331.8" cy="223.6" rx="8.1" ry="6.8" fill="url(#ag)"/>
<ellipse cx="356.3" cy="251.7" rx="9.5" ry="10.8" fill="url(#ag)"/>
<ellipse cx="377.7" cy="230.9" rx="4.1" ry="8.1" fill="url(#ag)"/>
<ellipse cx="364.8" cy="226.0" rx="4.1" ry="4.1" fill="url(#ag)"/>
<ellipse cx="323.2" cy="240.7" rx="2.7" ry="5.4" fill="url(#ag)"/>
<ellipse cx="339.1" cy="250.5" rx="4.1" ry="5.4" fill="url(#ag)"/>
<ellipse cx="324.4" cy="257.8" rx="4.1" ry="4.1" fill="url(#ag)"/>
<ellipse cx="334.2" cy="264.0" rx="4.1" ry="4.1" fill="url(#ag)"/>
<ellipse cx="353.8" cy="217.4" rx="4.1" ry="2.7" fill="url(#ag)"/>
</g>
<ellipse cx="333.0" cy="194.5" rx="6.5" ry="5.0" fill="url(#ac)"/>
<ellipse cx="356.3" cy="251.7" rx="6.0" ry="7.0" fill="url(#ac)"/>
<ellipse cx="373.4" cy="189.3" rx="5.0" ry="5.0" fill="url(#ac)"/>
<ellipse cx="331.8" cy="223.6" rx="5.0" ry="4.5" fill="url(#ac)"/>
<ellipse cx="286.5" cy="267.6" rx="5.0" ry="3.5" fill="url(#ac)"/>
<ellipse cx="313.4" cy="253.0" rx="4.0" ry="4.0" fill="url(#ac)"/>
</g>
<clipPath id="cfh"><rect x="394.0" y="155.0" width="118.6" height="118.3"/></clipPath>
<g clip-path="url(#cfh)">
<rect x="394.0" y="155.0" width="118.6" height="118.3" fill="#c8841c"/>
<rect x="394.0" y="155.0" width="118.6" height="118.3" filter="url(#afmN4)"/>
<g filter="url(#bl8)">
<ellipse cx="408.7" cy="170.9" rx="3.9" ry="2.6" fill="url(#ab0)"/>
<ellipse cx="434.4" cy="195.4" rx="5.2" ry="5.2" fill="url(#ab1)"/>
<ellipse cx="398.9" cy="179.5" rx="3.9" ry="3.9" fill="url(#ab0)"/>
<ellipse cx="440.5" cy="206.4" rx="3.9" ry="3.9" fill="url(#ab1)"/>
<ellipse cx="456.4" cy="179.5" rx="5.2" ry="6.5" fill="url(#ab1)"/>
<ellipse cx="478.5" cy="195.4" rx="3.9" ry="5.2" fill="url(#ab1)"/>
<ellipse cx="468.7" cy="204.0" rx="3.9" ry="3.9" fill="url(#ab1)"/>
<ellipse cx="458.9" cy="210.1" rx="3.9" ry="3.9" fill="url(#ab1)"/>
<ellipse cx="506.6" cy="191.7" rx="3.9" ry="3.9" fill="url(#ab0)"/>
<ellipse cx="507.9" cy="177.0" rx="3.9" ry="3.9" fill="url(#ab0)"/>
<ellipse cx="428.3" cy="249.3" rx="5.2" ry="5.2" fill="url(#ab1)"/>
<ellipse cx="447.9" cy="227.2" rx="3.9" ry="5.2" fill="url(#ab1)"/>
<ellipse cx="398.9" cy="237.0" rx="3.9" ry="3.9" fill="url(#ab0)"/>
<ellipse cx="433.2" cy="235.8" rx="3.9" ry="3.9" fill="url(#ab1)"/>
<ellipse cx="443.0" cy="267.6" rx="3.9" ry="3.9" fill="url(#ab1)"/>
<ellipse cx="401.3" cy="255.4" rx="3.9" ry="3.9" fill="url(#ab0)"/>
<ellipse cx="461.3" cy="216.2" rx="3.9" ry="3.9" fill="url(#ab1)"/>
<ellipse cx="468.7" cy="221.1" rx="3.9" ry="3.9" fill="url(#ab1)"/>
<ellipse cx="496.8" cy="233.4" rx="2.6" ry="10.4" fill="url(#ab0)"/>
<ellipse cx="462.6" cy="260.3" rx="3.9" ry="3.9" fill="url(#ab1)"/>
<ellipse cx="478.5" cy="255.4" rx="3.9" ry="3.9" fill="url(#ab1)"/>
</g>
<g filter="url(#warp8)">
<ellipse cx="418.5" cy="162.3" rx="4.1" ry="8.1" fill="url(#ag)"/>
<ellipse cx="403.8" cy="175.2" rx="5.4" ry="4.1" fill="url(#ag)"/>
<ellipse cx="417.3" cy="182.5" rx="5.4" ry="6.8" fill="url(#ag)"/>
<ellipse cx="432.0" cy="179.5" rx="6.8" ry="6.8" fill="url(#ag)"/>
<ellipse cx="445.4" cy="189.3" rx="8.1" ry="10.8" fill="url(#ag)"/>
<ellipse cx="402.6" cy="194.2" rx="5.4" ry="6.8" fill="url(#ag)"/>
<ellipse cx="420.9" cy="204.0" rx="6.8" ry="6.8" fill="url(#ag)"/>
<ellipse cx="406.2" cy="208.9" rx="5.4" ry="5.4" fill="url(#ag)"/>
<ellipse cx="425.8" cy="195.4" rx="4.1" ry="4.1" fill="url(#ag)"/>
<ellipse cx="398.9" cy="186.8" rx="2.7" ry="4.1" fill="url(#ag)"/>
<ellipse cx="434.4" cy="208.9" rx="4.1" ry="4.1" fill="url(#ag)"/>
<ellipse cx="427.0" cy="213.8" rx="5.4" ry="4.1" fill="url(#ag)"/>
<ellipse cx="413.6" cy="207.6" rx="4.1" ry="4.1" fill="url(#ag)"/>
<ellipse cx="469.9" cy="183.2" rx="5.4" ry="6.8" fill="url(#ag)"/>
<ellipse cx="480.9" cy="179.5" rx="4.1" ry="4.1" fill="url(#ag)"/>
<ellipse cx="490.7" cy="180.7" rx="4.1" ry="4.1" fill="url(#ag)"/>
<ellipse cx="493.2" cy="196.6" rx="6.8" ry="9.5" fill="url(#ag)"/>
<ellipse cx="501.7" cy="206.4" rx="8.1" ry="8.1" fill="url(#ag)"/>
<ellipse cx="484.6" cy="188.0" rx="2.7" ry="4.1" fill="url(#ag)"/>
<ellipse cx="461.3" cy="199.0" rx="4.1" ry="4.1" fill="url(#ag)"/>
<ellipse cx="473.6" cy="199.0" rx="4.1" ry="5.4" fill="url(#ag)"/>
<ellipse cx="483.4" cy="207.6" rx="4.1" ry="6.8" fill="url(#ag)"/>
<ellipse cx="466.2" cy="208.9" rx="4.1" ry="5.4" fill="url(#ag)"/>
<ellipse cx="511.5" cy="183.2" rx="2.7" ry="5.4" fill="url(#ag)"/>
<ellipse cx="498.1" cy="175.8" rx="4.1" ry="2.7" fill="url(#ag)"/>
<ellipse cx="418.5" cy="243.2" rx="10.8" ry="13.5" fill="url(#ag)"/>
<ellipse cx="419.7" cy="256.6" rx="5.4" ry="5.4" fill="url(#ag)"/>
<ellipse cx="439.3" cy="229.7" rx="5.4" ry="9.5" fill="url(#ag)"/>
<ellipse cx="409.9" cy="219.9" rx="4.1" ry="4.1" fill="url(#ag)"/>
<ellipse cx="424.6" cy="219.9" rx="4.1" ry="2.7" fill="url(#ag)"/>
<ellipse cx="406.2" cy="237.0" rx="4.1" ry="5.4" fill="url(#ag)"/>
<ellipse cx="443.0" cy="250.5" rx="5.4" ry="5.4" fill="url(#ag)"/>
<ellipse cx="405.0" cy="264.0" rx="5.4" ry="6.8" fill="url(#ag)"/>
<ellipse cx="443.0" cy="261.5" rx="4.1" ry="2.7" fill="url(#ag)"/>
<ellipse cx="433.2" cy="243.2" rx="2.7" ry="4.1" fill="url(#ag)"/>
<ellipse cx="396.4" cy="219.9" rx="2.7" ry="4.1" fill="url(#ag)"/>
<ellipse cx="411.1" cy="271.3" rx="4.1" ry="2.7" fill="url(#ag)"/>
<ellipse cx="430.7" cy="270.1" rx="4.1" ry="2.7" fill="url(#ag)"/>
<ellipse cx="472.4" cy="233.4" rx="5.4" ry="9.5" fill="url(#ag)"/>
<ellipse cx="487.0" cy="233.4" rx="6.8" ry="8.1" fill="url(#ag)"/>
<ellipse cx="457.7" cy="223.6" rx="2.7" ry="5.4" fill="url(#ag)"/>
<ellipse cx="501.7" cy="219.9" rx="6.8" ry="5.4" fill="url(#ag)"/>
<ellipse cx="461.3" cy="234.6" rx="2.7" ry="4.1" fill="url(#ag)"/>
<ellipse cx="457.7" cy="246.8" rx="4.1" ry="5.4" fill="url(#ag)"/>
<ellipse cx="478.5" cy="245.6" rx="4.1" ry="4.1" fill="url(#ag)"/>
<ellipse cx="495.6" cy="244.4" rx="4.1" ry="4.1" fill="url(#ag)"/>
<ellipse cx="510.3" cy="241.9" rx="2.7" ry="5.4" fill="url(#ag)"/>
<ellipse cx="489.5" cy="254.2" rx="6.8" ry="6.8" fill="url(#ag)"/>
<ellipse cx="458.9" cy="262.7" rx="5.4" ry="5.4" fill="url(#ag)"/>
<ellipse cx="501.7" cy="260.3" rx="4.1" ry="6.8" fill="url(#ag)"/>
<ellipse cx="484.6" cy="261.5" rx="4.1" ry="4.1" fill="url(#ag)"/>
<ellipse cx="467.5" cy="257.8" rx="4.1" ry="4.1" fill="url(#ag)"/>
<ellipse cx="509.1" cy="257.8" rx="2.7" ry="5.4" fill="url(#ag)"/>
<ellipse cx="458.9" cy="270.1" rx="4.1" ry="2.7" fill="url(#ag)"/>
</g>
<ellipse cx="445.4" cy="189.3" rx="5.0" ry="7.0" fill="url(#ac)"/>
<ellipse cx="493.2" cy="196.6" rx="4.5" ry="6.5" fill="url(#ac)"/>
<ellipse cx="501.7" cy="206.4" rx="5.0" ry="5.0" fill="url(#ac)"/>
<ellipse cx="472.4" cy="233.4" rx="3.5" ry="6.0" fill="url(#ac)"/>
<ellipse cx="439.3" cy="229.7" rx="3.5" ry="6.0" fill="url(#ac)"/>
<ellipse cx="419.7" cy="256.6" rx="3.5" ry="3.5" fill="url(#ac)"/>
<ellipse cx="489.5" cy="254.2" rx="4.0" ry="4.0" fill="url(#ac)"/>
<ellipse cx="432.0" cy="179.5" rx="4.0" ry="4.0" fill="url(#ac)"/>
<ellipse cx="420.9" cy="204.0" rx="4.0" ry="4.0" fill="url(#ac)"/>
</g>
<rect x="5" y="28" width="17.6" height="14.6" fill="#ffffff"/>
<text x="8.0" y="37.8" font-family="Liberation Sans" font-size="9.6" font-weight="normal" fill="#222" text-anchor="start" textLength="11.0" lengthAdjust="spacingAndGlyphs" stroke="#222" stroke-width="0.25">(a)</text>
<rect x="64.6" y="31.7" width="53" height="35.4" fill="#ffffff"/>
<rect x="64.6" y="63.6" width="53" height="3.5" fill="#c4c4c4"/>
<path d="M86.8,31.7 A4.5,3.4 0 0 0 95.8,31.7 Z" fill="#1a1a1a"/>
<polygon points="65.3,62.7 66.6,62.5 67.9,62.1 69.2,61.5 70.5,60.7 71.8,59.8 73.1,58.7 74.4,57.6 75.7,56.6 77.0,55.6 78.3,54.8 79.6,54.1 80.9,53.5 82.2,53.2 83.5,52.9 84.8,52.8 86.1,52.7 87.4,52.6 88.7,52.6 90.0,52.6 91.3,52.6 92.7,52.6 94.0,52.6 95.3,52.6 96.6,52.7 97.9,52.8 99.2,52.9 100.5,53.2 101.8,53.5 103.1,54.1 104.4,54.8 105.7,55.6 107.0,56.6 108.3,57.6 109.6,58.7 110.9,59.8 112.2,60.7 113.5,61.5 114.8,62.1 116.1,62.5 117.4,62.7" fill="#0c0c0c"/>
<rect x="64.6" y="62.3" width="53" height="1.5" fill="#1a1a1a"/>
<ellipse cx="91.4" cy="58.2" rx="4" ry="2" fill="#3a3a3a" filter="url(#bl8)"/>
<text x="69.3" y="44.5" font-family="Liberation Sans" font-size="9.2" font-weight="normal" fill="#2a2a2a" text-anchor="start" textLength="42.8" lengthAdjust="spacingAndGlyphs" stroke="#2a2a2a" stroke-width="0.1">45.3&#8201;&#177;&#8201;2.6&#176;</text>
<rect x="89.9" y="128.2" width="34.2" height="19.3" fill="#ffffff"/>
<text x="97.3" y="139.6" font-family="Liberation Serif" font-size="9" font-weight="bold" fill="#111" text-anchor="start" textLength="19.6" lengthAdjust="spacingAndGlyphs">1 &#956;m</text>
<rect x="96" y="142.4" width="22.1" height="2.2" fill="#e8101a"/>
<line x1="40.5" y1="116.2" x2="35.9" y2="123.7" stroke="#1e7fe0" stroke-width="2.3"/><polygon points="33.8,127.2 33.9,121.9 38.5,124.7" fill="#1e7fe0"/>
<rect x="133" y="28" width="20" height="15.6" fill="#ffffff"/>
<text x="138.2" y="38.8" font-family="Liberation Sans" font-size="9.6" font-weight="normal" fill="#222" text-anchor="start" textLength="11.2" lengthAdjust="spacingAndGlyphs" stroke="#222" stroke-width="0.25">(b)</text>
<rect x="199.1" y="30.4" width="50.2" height="33.8" fill="#ffffff"/>
<polygon points="201.0,63.9 202.2,63.3 203.3,62.7 204.5,62.1 205.7,61.6 206.9,61.1 208.1,60.6 209.2,60.2 210.4,59.8 211.6,59.5 212.8,59.2 213.9,58.9 215.1,58.6 216.3,58.4 217.4,58.2 218.6,58.1 219.8,57.9 221.0,57.8 222.2,57.8 223.3,57.7 224.5,57.7 225.7,57.7 226.8,57.8 228.0,57.8 229.2,57.9 230.4,58.1 231.6,58.2 232.7,58.4 233.9,58.6 235.1,58.9 236.2,59.2 237.4,59.5 238.6,59.8 239.8,60.2 240.9,60.6 242.1,61.1 243.3,61.6 244.5,62.1 245.7,62.7 246.8,63.3 248.0,63.9" fill="#0c0c0c"/>
<rect x="199.1" y="63.5" width="50.2" height="0.8" fill="#777"/>
<text x="203.4" y="43.3" font-family="Liberation Sans" font-size="9" font-weight="bold" fill="#1a1a1a" text-anchor="start" textLength="42.8" lengthAdjust="spacingAndGlyphs">27.1<tspan font-weight="normal"> &#177; </tspan>3.3&#176;</text>
<rect x="224.8" y="139" width="22.8" height="2.8" fill="#f01010"/>
<rect x="262" y="28" width="17.9" height="15.5" fill="#ffffff"/>
<text x="266.0" y="39.0" font-family="Liberation Serif" font-size="9.8" font-weight="bold" fill="#333" text-anchor="start" textLength="10.1" lengthAdjust="spacingAndGlyphs">(c)</text>
<rect x="331.2" y="29.8" width="49.6" height="37.4" fill="#ffffff"/>
<rect x="331.2" y="63.5" width="49.6" height="3.7" fill="#8a8a8a"/>
<polygon points="331.8,62.6 333.0,62.2 334.2,61.8 335.5,61.2 336.7,60.6 337.9,59.9 339.2,59.2 340.4,58.5 341.6,57.8 342.8,57.1 344.1,56.5 345.3,56.0 346.5,55.5 347.7,55.1 348.9,54.8 350.2,54.6 351.4,54.5 352.6,54.4 353.9,54.3 355.1,54.3 356.3,54.3 357.5,54.3 358.8,54.3 360.0,54.4 361.2,54.5 362.4,54.6 363.7,54.8 364.9,55.1 366.1,55.5 367.3,56.0 368.6,56.5 369.8,57.1 371.0,57.8 372.2,58.5 373.4,59.2 374.7,59.9 375.9,60.6 377.1,61.2 378.4,61.8 379.6,62.2 380.8,62.6" fill="#0c0c0c"/>
<rect x="331.2" y="29.5" width="49.6" height="0.7" fill="#555"/><rect x="380.4" y="29.5" width="0.7" height="37.7" fill="#666"/>
<text x="334.9" y="42.1" font-family="Liberation Sans" font-size="9.2" font-weight="normal" fill="#2a2a2a" text-anchor="start" textLength="42.8" lengthAdjust="spacingAndGlyphs" stroke="#2a2a2a" stroke-width="0.1">40.5&#177;&#8201;3.8&#176;</text>
<rect x="352.8" y="139.9" width="22.9" height="2.5" fill="#f01010"/>
<line x1="282.2" y1="67.2" x2="276.9" y2="73.2" stroke="#1e7fe0" stroke-width="2.3"/><polygon points="274.2,76.3 275.2,71.1 279.3,74.6" fill="#1e7fe0"/>
<line x1="351.4" y1="91.7" x2="346.4" y2="98.8" stroke="#1e7fe0" stroke-width="2.3"/><polygon points="344.0,102.1 344.5,96.8 348.9,99.9" fill="#1e7fe0"/>
<rect x="394.4" y="28" width="20.6" height="14.4" fill="#ffffff"/>
<text x="399.9" y="38.0" font-family="Liberation Sans" font-size="9.6" font-weight="normal" fill="#222" text-anchor="start" textLength="10.4" lengthAdjust="spacingAndGlyphs" stroke="#222" stroke-width="0.25">(d)</text>
<rect x="459.9" y="30.7" width="48.6" height="36.2" fill="#ffffff"/>
<rect x="459.9" y="62" width="48.6" height="4.9" fill="#6e6e6e"/>
<rect x="459.9" y="63.6" width="48.6" height="0.6" fill="#999"/><rect x="459.9" y="65.2" width="48.6" height="0.6" fill="#999"/>
<polygon points="463.5,61.3 464.6,61.0 465.7,60.7 466.8,60.3 467.9,59.8 469.1,59.3 470.2,58.8 471.3,58.3 472.4,57.8 473.5,57.4 474.6,57.0 475.7,56.6 476.8,56.3 477.9,56.0 479.0,55.8 480.1,55.7 481.3,55.6 482.4,55.5 483.5,55.5 484.6,55.5 485.7,55.5 486.8,55.5 487.9,55.5 489.0,55.5 490.1,55.6 491.2,55.7 492.4,55.8 493.5,56.0 494.6,56.3 495.7,56.6 496.8,57.0 497.9,57.4 499.0,57.8 500.1,58.3 501.2,58.8 502.3,59.3 503.5,59.8 504.6,60.3 505.7,60.7 506.8,61.0 507.9,61.3" fill="#0c0c0c"/>
<text x="466.9" y="42.9" font-family="Liberation Sans" font-size="9.2" font-weight="normal" fill="#2a2a2a" text-anchor="start" textLength="34.8" lengthAdjust="spacingAndGlyphs" stroke="#2a2a2a" stroke-width="0.1">28&#8201;&#177;&#8201;3.2&#176;</text>
<rect x="480.3" y="139.2" width="22" height="2.7" fill="#f01010"/>
<line x1="413.6" y1="77.0" x2="409.0" y2="81.9" stroke="#1e7fe0" stroke-width="2.3"/><polygon points="406.2,84.9 407.4,79.7 411.3,83.4" fill="#1e7fe0"/>
<line x1="460.0" y1="82.2" x2="454.9" y2="90.2" stroke="#1e7fe0" stroke-width="2.3"/><polygon points="452.7,93.7 452.9,88.4 457.4,91.3" fill="#1e7fe0"/>
<rect x="5" y="155" width="17.5" height="15" fill="#ffffff"/>
<text x="8.0" y="165.2" font-family="Liberation Sans" font-size="9.6" font-weight="normal" fill="#222" text-anchor="start" textLength="11.5" lengthAdjust="spacingAndGlyphs" stroke="#222" stroke-width="0.25">(e)</text>
<rect x="32" y="158.5" width="87.8" height="14.5" fill="rgb(88,140,178)" fill-opacity="0.58"/>
<text x="36.6" y="169.0" font-family="Liberation Serif" font-size="9.8" font-weight="bold" fill="#f4f4f4" text-anchor="start" textLength="79.2" lengthAdjust="spacingAndGlyphs">RMS = 39 &#177; 1.3 nm</text>
<rect x="95.2" y="252" width="28.8" height="21.2" fill="#ffffff"/>
<text x="99.7" y="263.4" font-family="Liberation Serif" font-size="9" font-weight="bold" fill="#111" text-anchor="start" textLength="20.5" lengthAdjust="spacingAndGlyphs">1 &#956;m</text>
<rect x="98.5" y="268.6" width="22.1" height="1.9" fill="#111"/>
<line x1="49.1" y1="206.5" x2="44.1" y2="213.6" stroke="#1e7fe0" stroke-width="2.6"/><polygon points="41.5,217.3 41.8,211.4 46.9,215.0" fill="#1e7fe0"/>
<rect x="134.3" y="156.3" width="17.6" height="15.1" fill="#ffffff" stroke="#6a3a0c" stroke-width="0.8"/>
<text x="138.1" y="167.1" font-family="Liberation Serif" font-size="8.4" font-weight="bold" fill="#111" text-anchor="start" textLength="9.4" lengthAdjust="spacingAndGlyphs" stroke="#111" stroke-width="0.3">(f)</text>
<rect x="159.5" y="159" width="86.3" height="14.5" fill="rgb(88,140,178)" fill-opacity="0.58"/>
<text x="163.8" y="169.4" font-family="Liberation Serif" font-size="9.8" font-weight="bold" fill="#f4f4f4" text-anchor="start" textLength="79.2" lengthAdjust="spacingAndGlyphs">RMS = 44 &#177; 1.1 nm</text>
<rect x="218.7" y="264.7" width="24.3" height="2.1" fill="#fff"/>
<rect x="263.5" y="156.7" width="19.5" height="14.3" fill="#ffffff"/>
<text x="268.3" y="167.0" font-family="Liberation Serif" font-size="8.8" font-weight="bold" fill="#111" text-anchor="start" textLength="10.8" lengthAdjust="spacingAndGlyphs" stroke="#111" stroke-width="0.3">(g)</text>
<rect x="290.6" y="158.7" width="85.7" height="14.3" fill="rgb(88,140,178)" fill-opacity="0.58"/>
<text x="293.5" y="169.0" font-family="Liberation Serif" font-size="9.8" font-weight="bold" fill="#f4f4f4" text-anchor="start" textLength="80.3" lengthAdjust="spacingAndGlyphs">RMS = 51 &#177; 0.9 nm</text>
<rect x="348.3" y="264.7" width="23.8" height="2.2" fill="#fff"/>
<line x1="306.8" y1="232.2" x2="302.5" y2="239.3" stroke="#1e7fe0" stroke-width="2.6"/><polygon points="300.2,243.2 300.1,237.3 305.4,240.5" fill="#1e7fe0"/>
<rect x="394" y="155" width="20.2" height="15.3" fill="#ffffff"/>
<text x="399.3" y="165.8" font-family="Liberation Sans" font-size="9.6" font-weight="normal" fill="#222" text-anchor="start" textLength="11.2" lengthAdjust="spacingAndGlyphs" stroke="#222" stroke-width="0.25">(h)</text>
<rect x="423.4" y="158.1" width="86.9" height="14" fill="rgb(88,140,178)" fill-opacity="0.58"/>
<text x="427.0" y="168.5" font-family="Liberation Serif" font-size="9.8" font-weight="bold" fill="#f4f4f4" text-anchor="start" textLength="79.2" lengthAdjust="spacingAndGlyphs">RMS = 53 &#177; 0.8 nm</text>
<rect x="476.2" y="266.1" width="24.6" height="2.1" fill="#fff"/>
<line x1="420.6" y1="188.2" x2="416.2" y2="195.4" stroke="#1e7fe0" stroke-width="2.6"/><polygon points="413.9,199.3 413.8,193.4 419.1,196.6" fill="#1e7fe0"/>
</svg>
<svg class="a" style="left:0;top:0;" width="550" height="490" viewBox="0 0 550 490">
<rect x="28.6" y="301.7" width="222.5" height="159.7" fill="none" stroke="#8c8c8c" stroke-width="0.8"/>
<polyline points="28.6,408.6 30.0,410.7 31.3,416.5 32.6,428.0 33.8,438.0 34.9,443.0 36.3,444.6 37.6,447.9 39.2,447.6 40.9,445.4 42.5,448.7 44.5,452.0 46.5,453.7 48.7,452.9 50.3,452.0 52.0,444.6 53.3,441.0 54.8,444.6 56.4,449.5 58.6,452.0 60.7,453.7 62.4,456.2 64.0,450.4 65.7,445.4 67.3,449.5 69.0,452.0 70.6,453.7 72.3,454.5 73.9,458.6 75.6,459.5 76.8,457.0 77.9,452.9 79.6,453.7 81.7,453.2 84.0,453.3 86.5,451.2 89.0,449.5 91.4,447.6 93.1,446.2 94.2,443.8 95.2,439.6 96.1,438.8 96.9,443.8 98.0,449.5 100.5,448.7 102.5,446.2 104.2,444.3 106.3,446.2 108.8,449.5 111.3,452.5 113.8,450.4 116.2,446.2 118.2,444.3 120.4,447.6 122.8,449.5 125.3,450.4 128.6,450.9 131.9,450.4 135.2,449.5 138.5,449.2 140.0,448.8 142.5,447.1 145.0,445.1 147.4,444.6 149.6,443.0 151.2,443.8 153.2,440.2 154.9,443.0 156.9,445.5 159.0,440.5 160.7,435.5 162.3,419.0 163.5,417.4 164.5,422.3 165.3,415.7 166.1,412.4 166.9,419.0 168.1,433.9 169.4,438.9 171.1,439.7 172.7,438.0 174.7,440.5 177.2,441.3 180.5,440.5 183.8,439.2 187.1,438.0 190.4,435.5 193.7,433.1 196.0,430.2 199.3,428.6 202.6,428.1 205.1,427.6 206.7,425.3 208.4,424.0 210.0,427.0 211.7,428.9 213.4,426.5 215.0,424.3 216.2,423.6 217.5,427.3 219.1,433.9 220.5,439.7 222.1,446.3 223.3,447.4 224.4,446.3 225.8,446.3 227.1,441.3 228.2,447.1 229.9,447.9 231.5,447.1 234.0,446.8 236.5,445.1 238.1,446.8 240.6,446.3 243.9,445.8 247.2,446.3 251.1,445.8" fill="none" stroke="#000" stroke-width="1.7" stroke-linejoin="round"/>
<polyline points="28.6,383.1 29.7,388.9 31.3,388.9 33.0,379.8 34.9,370.7 36.3,375.7 37.9,393.1 39.2,407.9 40.9,412.1 42.9,419.5 45.4,426.1 47.5,428.1 49.8,426.1 52.0,419.5 53.6,417.0 55.3,422.0 57.8,425.8 60.2,427.4 62.7,429.4 64.7,422.5 66.3,424.5 67.7,427.0 69.0,425.3 71.0,427.8 72.6,430.2 74.6,434.4 75.9,435.2 77.3,427.0 78.4,431.1 80.1,429.4 81.7,428.1 84.0,428.5 86.5,427.2 89.0,425.1 91.4,424.4 93.6,423.9 94.7,422.3 95.6,414.8 96.4,421.4 97.2,423.9 99.7,422.8 102.2,420.6 104.2,417.3 106.3,419.8 108.8,422.3 111.3,424.4 113.8,423.1 116.2,418.1 118.2,415.7 120.4,418.1 122.8,420.1 125.3,420.6 128.6,421.4 131.9,421.1 135.2,420.1 138.5,419.0 140.0,418.4 142.5,414.9 145.0,413.2 147.4,412.1 149.9,409.1 151.9,408.3 153.6,405.8 155.2,408.8 157.4,411.6 159.0,408.3 160.7,400.8 162.3,387.6 163.5,383.5 164.5,388.4 165.3,382.7 166.0,379.5 166.9,387.6 168.1,400.8 169.4,406.6 171.1,405.5 172.7,404.1 174.4,406.1 176.4,406.6 179.7,406.1 183.0,405.8 186.3,405.5 189.6,405.0 192.9,403.8 196.0,402.5 199.3,401.7 202.6,401.2 205.1,400.0 206.7,398.9 208.4,397.5 210.0,400.0 211.7,402.8 213.4,401.7 215.0,400.8 216.2,401.7 217.5,405.8 219.1,411.6 220.5,416.5 221.6,421.5 222.8,423.6 224.4,422.3 226.1,423.6 228.2,422.3 229.9,424.3 231.5,423.6 234.0,423.1 237.3,422.7 240.6,422.3 243.9,422.0 247.2,422.0 251.1,422.0" fill="none" stroke="#1530ff" stroke-width="1.7" stroke-linejoin="round"/>
<polyline points="28.6,360.8 30.5,364.6 32.6,368.3 34.6,367.0 35.9,369.9 37.6,374.9 39.2,378.5 40.9,379.5 42.9,385.6 45.4,389.8 47.5,391.1 49.5,389.4 51.5,383.1 53.3,378.5 54.9,383.1 56.9,387.3 59.4,389.8 62.4,392.2 64.0,386.4 65.7,384.8 67.3,388.1 69.0,387.8 70.6,389.8 72.6,390.6 74.6,393.1 76.3,396.4 77.6,392.2 79.6,391.4 81.7,389.4 84.0,389.0 86.5,387.0 89.0,385.4 91.4,382.9 93.1,385.4 95.6,384.2 98.0,383.7 100.5,382.6 102.5,380.9 104.2,379.3 106.3,381.6 108.8,384.5 111.3,386.5 113.8,384.5 116.2,380.4 117.9,378.3 120.0,380.4 122.0,381.6 124.5,382.1 127.0,382.6 130.3,382.9 133.6,382.6 136.9,381.2 140.0,379.8 143.3,376.9 146.6,376.4 149.1,375.2 151.6,375.2 154.0,372.7 156.5,376.4 158.5,375.2 160.2,367.8 161.8,361.2 163.1,347.9 164.1,349.6 164.8,352.9 165.5,347.1 166.1,344.6 167.1,351.2 168.1,362.8 169.4,371.1 171.1,372.7 172.7,371.1 174.7,374.4 177.2,375.7 180.5,376.4 183.8,376.0 187.1,375.2 190.4,373.6 193.7,371.9 196.0,371.0 199.3,369.1 202.6,366.9 205.1,364.8 206.7,362.0 208.4,360.3 210.0,362.5 211.7,363.6 213.4,361.2 215.0,359.8 216.2,359.5 217.5,362.0 219.1,366.9 220.5,372.7 221.6,375.7 224.1,376.0 226.6,376.9 228.2,376.0 231.5,375.2 235.7,374.7 239.0,374.4 243.9,374.0 248.9,373.9 251.1,373.9" fill="none" stroke="#3fdc10" stroke-width="1.7" stroke-linejoin="round"/>
<polyline points="28.8,316.5 30.0,319.0 31.3,328.0 33.0,336.4 34.3,339.7 35.4,338.8 36.6,345.5 37.9,351.2 39.2,352.6 40.9,350.4 42.5,352.6 44.5,357.0 46.5,359.5 48.7,359.8 50.3,357.9 52.0,350.4 53.3,347.1 54.8,350.4 56.4,356.2 58.1,358.2 60.2,359.2 62.4,361.5 63.5,358.7 65.2,355.4 66.3,354.2 67.7,357.0 69.0,356.2 70.6,358.2 72.3,359.5 74.3,362.0 75.9,365.3 76.8,367.8 77.9,362.0 79.6,362.5 81.2,360.3 82.9,359.2 84.0,359.2 86.5,357.3 88.6,356.1 90.3,354.8 91.4,353.1 92.6,355.6 93.9,353.1 95.6,355.6 98.0,354.5 100.5,353.1 102.5,351.5 104.2,350.2 105.8,352.3 108.0,355.6 110.1,358.1 111.8,358.9 113.8,357.3 115.7,354.0 117.9,350.2 119.5,352.8 121.2,355.1 122.8,354.5 124.5,355.6 127.0,356.1 129.5,356.4 131.9,356.1 134.4,355.6 136.9,355.1 140.0,355.0 142.5,353.2 145.0,352.1 147.4,351.2 149.1,349.3 150.7,350.4 152.9,347.1 154.5,348.8 156.5,351.6 158.5,351.2 160.2,344.6 161.5,339.7 162.8,323.1 163.6,321.5 164.5,329.8 165.1,323.1 166.0,319.5 166.8,324.8 167.8,338.0 168.9,346.3 170.1,348.8 171.4,347.1 172.7,346.3 174.4,349.6 176.4,350.9 179.7,351.2 183.0,350.9 186.3,350.4 189.6,349.6 192.9,348.3 196.0,347.1 199.3,345.0 202.6,343.3 205.1,341.3 206.7,338.0 208.4,335.5 210.0,337.2 211.7,339.3 213.4,336.4 215.0,334.7 216.2,333.9 217.5,336.4 219.1,341.3 220.5,347.9 221.6,352.9 223.3,354.5 225.8,354.9 227.4,355.9 229.1,354.5 232.4,354.2 235.7,353.7 239.0,353.2 242.3,353.2 245.6,352.9 248.9,352.9 251.1,353.2" fill="none" stroke="#e8141c" stroke-width="1.7" stroke-linejoin="round"/>
<rect x="29.0" y="302.09999999999997" width="33.4" height="158.89999999999998" fill="rgb(250,236,205)" fill-opacity="0.42"/>
<line x1="62.4" y1="301.7" x2="62.4" y2="461.4" stroke="#9a9a9a" stroke-width="0.7"/>
<line x1="61.7" y1="461.4" x2="61.7" y2="459.59999999999997" stroke="#8c8c8c" stroke-width="0.7"/>
<line x1="61.7" y1="301.7" x2="61.7" y2="303.5" stroke="#8c8c8c" stroke-width="0.7"/>
<line x1="109.1" y1="461.4" x2="109.1" y2="459.59999999999997" stroke="#8c8c8c" stroke-width="0.7"/>
<line x1="109.1" y1="301.7" x2="109.1" y2="303.5" stroke="#8c8c8c" stroke-width="0.7"/>
<line x1="156.4" y1="461.4" x2="156.4" y2="459.59999999999997" stroke="#8c8c8c" stroke-width="0.7"/>
<line x1="156.4" y1="301.7" x2="156.4" y2="303.5" stroke="#8c8c8c" stroke-width="0.7"/>
<line x1="203.8" y1="461.4" x2="203.8" y2="459.59999999999997" stroke="#8c8c8c" stroke-width="0.7"/>
<line x1="203.8" y1="301.7" x2="203.8" y2="303.5" stroke="#8c8c8c" stroke-width="0.7"/>
<line x1="28.6" y1="445.3" x2="30.400000000000002" y2="445.3" stroke="#8c8c8c" stroke-width="0.7"/>
<line x1="251.1" y1="445.3" x2="249.29999999999998" y2="445.3" stroke="#8c8c8c" stroke-width="0.7"/>
<line x1="28.6" y1="429.2" x2="30.400000000000002" y2="429.2" stroke="#8c8c8c" stroke-width="0.7"/>
<line x1="251.1" y1="429.2" x2="249.29999999999998" y2="429.2" stroke="#8c8c8c" stroke-width="0.7"/>
<line x1="28.6" y1="413.1" x2="30.400000000000002" y2="413.1" stroke="#8c8c8c" stroke-width="0.7"/>
<line x1="251.1" y1="413.1" x2="249.29999999999998" y2="413.1" stroke="#8c8c8c" stroke-width="0.7"/>
<line x1="28.6" y1="397.0" x2="30.400000000000002" y2="397.0" stroke="#8c8c8c" stroke-width="0.7"/>
<line x1="251.1" y1="397.0" x2="249.29999999999998" y2="397.0" stroke="#8c8c8c" stroke-width="0.7"/>
<line x1="28.6" y1="380.9" x2="30.400000000000002" y2="380.9" stroke="#8c8c8c" stroke-width="0.7"/>
<line x1="251.1" y1="380.9" x2="249.29999999999998" y2="380.9" stroke="#8c8c8c" stroke-width="0.7"/>
<line x1="28.6" y1="364.8" x2="30.400000000000002" y2="364.8" stroke="#8c8c8c" stroke-width="0.7"/>
<line x1="251.1" y1="364.8" x2="249.29999999999998" y2="364.8" stroke="#8c8c8c" stroke-width="0.7"/>
<line x1="28.6" y1="348.7" x2="30.400000000000002" y2="348.7" stroke="#8c8c8c" stroke-width="0.7"/>
<line x1="251.1" y1="348.7" x2="249.29999999999998" y2="348.7" stroke="#8c8c8c" stroke-width="0.7"/>
<line x1="28.6" y1="332.6" x2="30.400000000000002" y2="332.6" stroke="#8c8c8c" stroke-width="0.7"/>
<line x1="251.1" y1="332.6" x2="249.29999999999998" y2="332.6" stroke="#8c8c8c" stroke-width="0.7"/>
<line x1="28.6" y1="316.5" x2="30.400000000000002" y2="316.5" stroke="#8c8c8c" stroke-width="0.7"/>
<line x1="251.1" y1="316.5" x2="249.29999999999998" y2="316.5" stroke="#8c8c8c" stroke-width="0.7"/>
<text x="61.7" y="470.7" font-size="6.8" fill="#555" text-anchor="middle" font-family="Liberation Sans">2000</text>
<text x="109.1" y="470.7" font-size="6.8" fill="#555" text-anchor="middle" font-family="Liberation Sans">2500</text>
<text x="156.4" y="470.7" font-size="6.8" fill="#555" text-anchor="middle" font-family="Liberation Sans">3000</text>
<text x="203.8" y="470.7" font-size="6.8" fill="#555" text-anchor="middle" font-family="Liberation Sans">3500</text>
<text x="251.1" y="470.7" font-size="6.8" fill="#555" text-anchor="middle" font-family="Liberation Sans">4000</text>
<rect x="289.6" y="301.7" width="222.69999999999993" height="159.40000000000003" fill="none" stroke="#8c8c8c" stroke-width="0.8"/>
<polyline points="289.6,407.8 291.8,406.6 294.3,408.3 297.6,408.3 300.9,409.1 304.2,410.4 307.5,413.2 310.0,416.5 312.4,420.7 314.9,424.8 317.4,428.1 319.9,430.6 321.5,433.9 324.0,437.2 326.5,439.7 329.0,441.3 330.6,440.8 333.1,442.5 335.6,444.1 338.1,444.6 340.5,444.1 342.0,443.5 344.5,444.9 346.9,446.8 349.4,448.2 351.8,447.0 354.3,448.0 356.7,447.0 360.4,446.8 362.8,446.2 365.3,444.1 367.7,444.9 370.2,445.5 373.9,445.5 377.5,444.9 380.0,446.2 382.4,447.0 386.1,447.7 388.6,448.6 391.0,449.8 393.5,451.7 395.9,452.6 398.0,452.0 400.8,450.4 403.5,452.6 407.2,453.5 410.9,453.0 414.5,454.1 420.0,453.0 424.6,451.2 428.3,452.3 432.9,450.8 437.5,448.0 442.1,444.4 446.7,441.6 450.3,439.8 454.0,440.0 457.3,441.3 459.8,442.9 462.3,445.4 465.6,446.6 468.9,447.6 471.4,446.6 473.8,447.9 477.1,449.2 480.4,450.4 483.8,451.2 487.1,452.0 490.4,452.9 492.8,451.2 494.5,448.7 496.1,451.2 497.8,452.9 500.3,451.5 502.8,453.7 505.2,454.8 507.7,455.3 510.2,454.5 512.3,453.7" fill="none" stroke="#000" stroke-width="1.7" stroke-linejoin="round"/>
<polyline points="289.6,380.0 292.6,384.3 295.9,386.3 299.2,387.6 302.5,388.4 305.8,388.6 309.1,388.4 312.4,387.3 315.8,385.1 319.1,382.7 320.7,381.0 324.0,377.7 327.3,374.4 330.6,371.1 333.1,369.4 335.6,371.1 338.1,373.6 340.5,376.9 342.0,378.0 343.7,382.4 346.1,389.0 348.6,394.8 351.1,398.9 353.6,403.9 356.0,406.4 358.5,408.0 361.0,408.8 363.5,408.3 366.0,409.3 368.4,411.3 371.8,413.0 375.1,414.3 378.4,415.5 381.7,417.9 385.0,420.4 388.3,422.6 391.6,424.2 394.9,425.4 398.0,426.0 403.5,426.9 407.2,427.8 410.9,426.9 414.5,427.8 420.0,427.3 425.5,426.6 431.0,425.1 436.6,423.3 440.2,421.8 443.9,419.6 447.6,417.4 451.2,415.9 454.0,416.0 457.3,416.2 460.6,418.1 463.9,420.6 467.2,422.3 470.5,422.8 473.8,423.4 477.1,424.8 480.4,426.1 482.9,425.6 486.2,426.1 488.7,425.6 491.2,426.4 493.7,423.4 496.1,426.1 498.6,427.2 501.1,426.1 503.6,428.1 506.1,429.7 509.4,429.7 512.3,429.4" fill="none" stroke="#1530ff" stroke-width="1.7" stroke-linejoin="round"/>
<polyline points="289.6,358.7 291.8,360.8 294.3,362.0 297.6,362.8 300.9,364.1 304.2,365.3 307.5,366.9 310.8,368.6 314.1,367.8 317.4,368.1 320.7,367.8 324.0,366.9 327.3,366.4 330.6,366.1 333.9,365.3 336.4,364.8 338.9,366.1 342.0,369.0 345.3,372.4 348.6,375.2 351.9,376.9 355.2,377.7 358.5,377.4 361.8,378.1 365.1,378.4 368.4,378.0 370.9,377.4 373.4,378.5 376.7,379.3 380.0,380.5 385.0,382.9 389.9,384.9 394.9,386.5 398.0,387.6 403.5,388.7 409.0,389.8 414.5,389.8 420.0,389.3 425.5,388.7 431.0,387.4 436.6,385.6 441.2,382.9 444.8,380.1 448.5,378.3 452.2,377.5 454.0,377.5 457.3,378.7 460.6,380.8 463.9,382.8 467.2,384.1 470.5,384.8 473.8,386.1 477.1,386.9 480.4,387.8 483.8,388.1 486.2,387.4 488.7,388.1 491.2,386.9 493.7,385.8 495.3,388.1 497.8,389.1 500.3,388.6 503.6,389.4 506.9,389.8 510.2,390.2 512.3,390.7" fill="none" stroke="#3fdc10" stroke-width="1.7" stroke-linejoin="round"/>
<polyline points="289.6,315.7 292.6,316.2 295.9,317.4 299.2,318.5 302.5,319.8 305.0,321.5 307.5,324.5 310.0,327.3 312.4,329.8 314.9,331.7 317.4,333.9 319.9,336.0 322.4,338.0 324.8,339.3 327.3,339.3 329.8,338.8 332.3,338.3 334.3,337.7 335.9,337.2 338.1,338.3 340.5,340.5 342.0,342.1 344.5,345.5 347.0,347.9 350.3,349.9 353.6,351.6 356.9,352.1 360.2,351.2 363.5,351.6 366.8,350.9 370.1,349.3 373.4,349.9 376.7,350.4 380.0,350.9 383.3,352.1 386.6,353.7 389.9,355.4 393.2,357.0 396.5,357.5 398.0,357.9 401.3,358.7 404.6,358.7 407.9,359.0 411.2,359.2 414.5,359.5 417.8,359.5 421.1,358.7 424.4,358.2 427.8,357.5 431.1,357.0 434.4,355.9 437.7,354.2 440.1,352.1 442.6,349.6 445.9,347.6 449.2,346.3 451.7,346.0 454.0,346.5 457.3,347.8 460.6,349.4 463.9,351.7 467.2,353.9 470.5,355.0 473.8,356.4 477.1,357.2 480.4,357.7 483.8,358.0 487.1,358.3 488.7,356.7 490.4,358.3 492.0,359.3 494.5,357.7 497.0,358.8 500.3,359.7 503.6,359.7 506.9,360.0 510.2,361.0 512.3,361.0" fill="none" stroke="#e8141c" stroke-width="1.7" stroke-linejoin="round"/>
<text x="290.4" y="470.7" font-size="6.8" fill="#555" text-anchor="middle" font-family="Liberation Sans">1650</text>
<line x1="321.1" y1="461.1" x2="321.1" y2="459.3" stroke="#8c8c8c" stroke-width="0.7"/>
<line x1="321.1" y1="301.7" x2="321.1" y2="303.5" stroke="#8c8c8c" stroke-width="0.7"/>
<text x="321.1" y="470.7" font-size="6.8" fill="#555" text-anchor="middle" font-family="Liberation Sans">1700</text>
<line x1="351.9" y1="461.1" x2="351.9" y2="459.3" stroke="#8c8c8c" stroke-width="0.7"/>
<line x1="351.9" y1="301.7" x2="351.9" y2="303.5" stroke="#8c8c8c" stroke-width="0.7"/>
<text x="351.9" y="470.7" font-size="6.8" fill="#555" text-anchor="middle" font-family="Liberation Sans">1750</text>
<line x1="382.6" y1="461.1" x2="382.6" y2="459.3" stroke="#8c8c8c" stroke-width="0.7"/>
<line x1="382.6" y1="301.7" x2="382.6" y2="303.5" stroke="#8c8c8c" stroke-width="0.7"/>
<text x="382.6" y="470.7" font-size="6.8" fill="#555" text-anchor="middle" font-family="Liberation Sans">1800</text>
<line x1="413.3" y1="461.1" x2="413.3" y2="459.3" stroke="#8c8c8c" stroke-width="0.7"/>
<line x1="413.3" y1="301.7" x2="413.3" y2="303.5" stroke="#8c8c8c" stroke-width="0.7"/>
<text x="413.3" y="470.7" font-size="6.8" fill="#555" text-anchor="middle" font-family="Liberation Sans">1850</text>
<line x1="444.0" y1="461.1" x2="444.0" y2="459.3" stroke="#8c8c8c" stroke-width="0.7"/>
<line x1="444.0" y1="301.7" x2="444.0" y2="303.5" stroke="#8c8c8c" stroke-width="0.7"/>
<text x="444.0" y="470.7" font-size="6.8" fill="#555" text-anchor="middle" font-family="Liberation Sans">1900</text>
<line x1="474.8" y1="461.1" x2="474.8" y2="459.3" stroke="#8c8c8c" stroke-width="0.7"/>
<line x1="474.8" y1="301.7" x2="474.8" y2="303.5" stroke="#8c8c8c" stroke-width="0.7"/>
<text x="474.8" y="470.7" font-size="6.8" fill="#555" text-anchor="middle" font-family="Liberation Sans">1950</text>
<line x1="505.5" y1="461.1" x2="505.5" y2="459.3" stroke="#8c8c8c" stroke-width="0.7"/>
<line x1="505.5" y1="301.7" x2="505.5" y2="303.5" stroke="#8c8c8c" stroke-width="0.7"/>
<text x="505.5" y="470.7" font-size="6.8" fill="#555" text-anchor="middle" font-family="Liberation Sans">2000</text>
<line x1="289.6" y1="445.1" x2="291.40000000000003" y2="445.1" stroke="#8c8c8c" stroke-width="0.7"/>
<line x1="512.3" y1="445.1" x2="510.49999999999994" y2="445.1" stroke="#8c8c8c" stroke-width="0.7"/>
<line x1="289.6" y1="429.0" x2="291.40000000000003" y2="429.0" stroke="#8c8c8c" stroke-width="0.7"/>
<line x1="512.3" y1="429.0" x2="510.49999999999994" y2="429.0" stroke="#8c8c8c" stroke-width="0.7"/>
<line x1="289.6" y1="413.0" x2="291.40000000000003" y2="413.0" stroke="#8c8c8c" stroke-width="0.7"/>
<line x1="512.3" y1="413.0" x2="510.49999999999994" y2="413.0" stroke="#8c8c8c" stroke-width="0.7"/>
<line x1="289.6" y1="396.9" x2="291.40000000000003" y2="396.9" stroke="#8c8c8c" stroke-width="0.7"/>
<line x1="512.3" y1="396.9" x2="510.49999999999994" y2="396.9" stroke="#8c8c8c" stroke-width="0.7"/>
<line x1="289.6" y1="380.9" x2="291.40000000000003" y2="380.9" stroke="#8c8c8c" stroke-width="0.7"/>
<line x1="512.3" y1="380.9" x2="510.49999999999994" y2="380.9" stroke="#8c8c8c" stroke-width="0.7"/>
<line x1="289.6" y1="364.8" x2="291.40000000000003" y2="364.8" stroke="#8c8c8c" stroke-width="0.7"/>
<line x1="512.3" y1="364.8" x2="510.49999999999994" y2="364.8" stroke="#8c8c8c" stroke-width="0.7"/>
<line x1="289.6" y1="348.8" x2="291.40000000000003" y2="348.8" stroke="#8c8c8c" stroke-width="0.7"/>
<line x1="512.3" y1="348.8" x2="510.49999999999994" y2="348.8" stroke="#8c8c8c" stroke-width="0.7"/>
<line x1="289.6" y1="332.7" x2="291.40000000000003" y2="332.7" stroke="#8c8c8c" stroke-width="0.7"/>
<line x1="512.3" y1="332.7" x2="510.49999999999994" y2="332.7" stroke="#8c8c8c" stroke-width="0.7"/>
<line x1="289.6" y1="316.6" x2="291.40000000000003" y2="316.6" stroke="#8c8c8c" stroke-width="0.7"/>
<line x1="512.3" y1="316.6" x2="510.49999999999994" y2="316.6" stroke="#8c8c8c" stroke-width="0.7"/>
<line x1="336.7" y1="316" x2="336.7" y2="326" stroke="#4a8fd6" stroke-width="2"/>
<polygon points="333.9,325 339.5,325 336.7,331.2" fill="#4a8fd6"/>
<line x1="336.7" y1="333" x2="336.7" y2="461" stroke="#4a8fd6" stroke-width="1.3" stroke-dasharray="3.2,2.4"/>
</svg>
<div class="a" style="left:9.5px;top:282px;white-space:nowrap;font-family:'Liberation Serif',serif;font-weight:bold;font-size:10.5px;line-height:12px;color:#111;">(i)</div>
<div class="a" style="left:282px;top:282px;white-space:nowrap;font-family:'Liberation Serif',serif;font-weight:bold;font-size:10.5px;line-height:12px;color:#111;">(j)</div>
<div class="a" style="left:30px;top:288px;white-space:nowrap;font-family:'Liberation Serif',serif;font-size:11px;line-height:12px;color:#222;">FTIR spectra of bare- and treated PES membranes</div>
<div class="a" style="left:305.6px;top:288px;white-space:nowrap;font-family:'Liberation Serif',serif;font-size:11px;line-height:12px;color:#222;">Enlarged view in the range 1650-2000&#8201;cm<span style="font-size:6px;position:relative;top:-4px;">-1</span></div>
<div class="a" style="left:222.1px;top:339px;white-space:nowrap;font-family:'Liberation Serif',serif;font-size:9.9px;line-height:10px;color:#222;">20 min</div>
<div class="a" style="left:221.6px;top:362.6px;white-space:nowrap;font-family:'Liberation Serif',serif;font-size:9.9px;line-height:10px;color:#222;">10 min</div>
<div class="a" style="left:226.6px;top:411px;white-space:nowrap;font-family:'Liberation Serif',serif;font-size:9.9px;line-height:10px;color:#222;">2min</div>
<div class="a" style="left:227.1px;top:433.6px;white-space:nowrap;font-family:'Liberation Serif',serif;font-size:9.9px;line-height:10px;color:#222;">PES</div>
<div class="a" style="left:481.5px;top:346.9px;white-space:nowrap;font-family:'Liberation Serif',serif;font-size:10.4px;line-height:10px;color:#222;">20 min</div>
<div class="a" style="left:482.1px;top:375.5px;white-space:nowrap;font-family:'Liberation Serif',serif;font-size:10.4px;line-height:10px;color:#222;">10 min</div>
<div class="a" style="left:485.4px;top:410.4px;white-space:nowrap;font-family:'Liberation Serif',serif;font-size:10.4px;line-height:10px;color:#222;">2min</div>
<div class="a" style="left:487.9px;top:437.3px;white-space:nowrap;font-family:'Liberation Serif',serif;font-size:10.4px;line-height:10px;color:#222;">PES</div>
<div class="a" style="left:324.7px;top:304.5px;white-space:nowrap;font-family:'Liberation Serif',serif;font-size:11.2px;line-height:11px;color:#222;">C=O</div>
<div class="a" style="left:103.6px;top:476px;white-space:nowrap;font-family:'Liberation Sans',sans-serif;font-weight:bold;font-size:9.3px;line-height:10px;color:#111;">Wavenumber (cm<span style="font-size:6px;position:relative;top:-3.5px;">-1</span>)</div>
<div class="a" style="left:362.9px;top:476px;white-space:nowrap;font-family:'Liberation Sans',sans-serif;font-weight:bold;font-size:9.3px;line-height:10px;color:#111;">Wavenumber (cm<span style="font-size:6px;position:relative;top:-3.5px;">-1</span>)</div>
<div class="a" style="left:14.7px;top:374px;width:0;height:0;"><div style="position:absolute;transform:translate(-50%,-50%) rotate(-90deg);white-space:nowrap;font-family:'Liberation Sans',sans-serif;font-weight:bold;font-size:9.1px;line-height:10px;color:#111;">Absorbance (a.u)</div></div>
<div class="a" style="left:275.9px;top:377px;width:0;height:0;"><div style="position:absolute;transform:translate(-50%,-50%) rotate(-90deg);white-space:nowrap;font-family:'Liberation Sans',sans-serif;font-weight:bold;font-size:9.1px;line-height:10px;color:#111;">Absorbance (a.u)</div></div>
<div class="a" style="left:330.8px;top:410.5px;width:0;height:0;"><div style="position:absolute;transform:translate(-50%,-50%) rotate(-90deg);white-space:nowrap;font-family:'Liberation Serif',serif;font-size:10.5px;line-height:10px;color:#333;">172</div></div>
<div class="a" style="left:342.5px;top:411px;width:0;height:0;"><div style="position:absolute;transform:translate(-50%,-50%) rotate(-90deg);white-space:nowrap;font-family:'Liberation Serif',serif;font-size:10.3px;line-height:10px;color:#333;">4</div></div>
</body></html>
